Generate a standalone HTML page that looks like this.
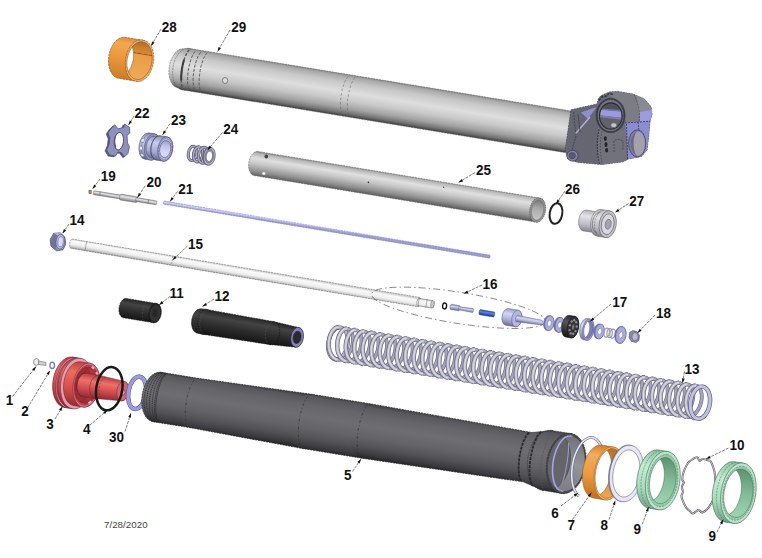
<!DOCTYPE html>
<html><head><meta charset="utf-8"><title>Fork exploded view</title>
<style>
html,body{margin:0;padding:0;background:#fff;}
body{width:762px;height:558px;overflow:hidden;font-family:"Liberation Sans",sans-serif;}
svg{display:block}
.lb{font-family:"Liberation Sans",sans-serif;font-weight:bold;font-size:15px;fill:#111;}
.dt{font-family:"Liberation Sans",sans-serif;font-size:9.8px;fill:#444;}
</style></head><body>
<svg width="762" height="558" viewBox="0 0 762 558">
<defs>
<linearGradient id="g1" gradientUnits="userSpaceOnUse" x1="287.0" y1="64.5" x2="280.2" y2="105.9"><stop offset="0" stop-color="#868686"/><stop offset="0.05" stop-color="#a8a8a8"/><stop offset="0.2" stop-color="#c8c8c8"/><stop offset="0.42" stop-color="#dedede"/><stop offset="0.62" stop-color="#c8c8c8"/><stop offset="0.8" stop-color="#a2a2a2"/><stop offset="0.92" stop-color="#727272"/><stop offset="1" stop-color="#3c3c3c"/></linearGradient>
<linearGradient id="g2" gradientUnits="userSpaceOnUse" x1="134.4" y1="38.8" x2="127.7" y2="79.8"><stop offset="0" stop-color="#dc8c38"/><stop offset="0.15" stop-color="#f2a850"/><stop offset="0.5" stop-color="#ea983e"/><stop offset="1" stop-color="#cc7c2a"/></linearGradient>
<linearGradient id="g3" gradientUnits="userSpaceOnUse" x1="142.6" y1="41.9" x2="136.5" y2="79.4"><stop offset="0" stop-color="#b46c24"/><stop offset="0.15" stop-color="#c87e30"/><stop offset="0.3" stop-color="#d48836"/><stop offset="0.315" stop-color="#8c5018"/><stop offset="0.34" stop-color="#e89c48"/><stop offset="1" stop-color="#f2aa58"/></linearGradient>
<clipPath id="cp4"><path d="M142.6,41.9 A12.2 19.0 9.3 1 1 136.5,79.4 A12.2 19.0 9.3 1 1 142.6,41.9 Z"/></clipPath>
<linearGradient id="g5" gradientUnits="userSpaceOnUse" x1="356.1" y1="167.7" x2="352.2" y2="191.8"><stop offset="0" stop-color="#8a8a8a"/><stop offset="0.08" stop-color="#b8b8b8"/><stop offset="0.28" stop-color="#e0e0e0"/><stop offset="0.5" stop-color="#c6c6c6"/><stop offset="0.8" stop-color="#909090"/><stop offset="1" stop-color="#5c5c5c"/></linearGradient>
<linearGradient id="g6" gradientUnits="userSpaceOnUse" x1="539.3" y1="200.2" x2="536.0" y2="220.0"><stop offset="0" stop-color="#787878"/><stop offset="0.4" stop-color="#a8a8a8"/><stop offset="1" stop-color="#c8c8c8"/></linearGradient>
<linearGradient id="g7" gradientUnits="userSpaceOnUse" x1="591.7" y1="210.4" x2="588.2" y2="232.2"><stop offset="0" stop-color="#b0b0b8"/><stop offset="0.3" stop-color="#e4e4ea"/><stop offset="0.7" stop-color="#b8b8c0"/><stop offset="1" stop-color="#80808a"/></linearGradient>
<linearGradient id="g8" gradientUnits="userSpaceOnUse" x1="607.0" y1="209.9" x2="602.5" y2="237.5"><stop offset="0" stop-color="#b0b0b8"/><stop offset="0.3" stop-color="#e4e4ea"/><stop offset="0.7" stop-color="#b8b8c0"/><stop offset="1" stop-color="#80808a"/></linearGradient>
<linearGradient id="g9" gradientUnits="userSpaceOnUse" x1="153.6" y1="133.7" x2="149.3" y2="159.9"><stop offset="0" stop-color="#8a8eb6"/><stop offset="0.3" stop-color="#c8ccec"/><stop offset="0.7" stop-color="#a4a8d0"/><stop offset="1" stop-color="#666a92"/></linearGradient>
<linearGradient id="g10" gradientUnits="userSpaceOnUse" x1="153.2" y1="135.9" x2="149.7" y2="157.7"><stop offset="0" stop-color="#8a8eb6"/><stop offset="0.3" stop-color="#c8ccec"/><stop offset="0.7" stop-color="#a4a8d0"/><stop offset="1" stop-color="#666a92"/></linearGradient>
<linearGradient id="g11" gradientUnits="userSpaceOnUse" x1="153.4" y1="134.7" x2="149.5" y2="158.9"><stop offset="0" stop-color="#8a8eb6"/><stop offset="0.3" stop-color="#c8ccec"/><stop offset="0.7" stop-color="#a4a8d0"/><stop offset="1" stop-color="#666a92"/></linearGradient>
<linearGradient id="g12" gradientUnits="userSpaceOnUse" x1="166.6" y1="140.8" x2="163.9" y2="157.3"><stop offset="0" stop-color="#a0a4cc"/><stop offset="0.5" stop-color="#ccd0f0"/><stop offset="1" stop-color="#dcdff8"/></linearGradient>
<linearGradient id="g13" gradientUnits="userSpaceOnUse" x1="99.3" y1="191.5" x2="98.6" y2="195.5"><stop offset="0" stop-color="#a0a0a8"/><stop offset="0.35" stop-color="#e4e4ea"/><stop offset="1" stop-color="#787880"/></linearGradient>
<linearGradient id="g14" gradientUnits="userSpaceOnUse" x1="124.1" y1="194.6" x2="123.1" y2="200.5"><stop offset="0" stop-color="#a0a0a8"/><stop offset="0.35" stop-color="#e4e4ea"/><stop offset="1" stop-color="#787880"/></linearGradient>
<linearGradient id="g15" gradientUnits="userSpaceOnUse" x1="143.7" y1="198.8" x2="143.0" y2="202.7"><stop offset="0" stop-color="#a0a0a8"/><stop offset="0.35" stop-color="#e4e4ea"/><stop offset="1" stop-color="#787880"/></linearGradient>
<linearGradient id="g16" gradientUnits="userSpaceOnUse" x1="169.2" y1="201.8" x2="168.7" y2="205.0"><stop offset="0" stop-color="#a8acdc"/><stop offset="0.4" stop-color="#d0d4f4"/><stop offset="1" stop-color="#989cd0"/></linearGradient>
<linearGradient id="g17" gradientUnits="userSpaceOnUse" x1="121.6" y1="247.3" x2="120.0" y2="256.6"><stop offset="0" stop-color="#d0d0d0"/><stop offset="0.2" stop-color="#fafafa"/><stop offset="0.6" stop-color="#efefef"/><stop offset="0.85" stop-color="#c4c4c4"/><stop offset="1" stop-color="#9a9a9a"/></linearGradient>
<linearGradient id="g18" gradientUnits="userSpaceOnUse" x1="453.4" y1="304.7" x2="452.6" y2="309.8"><stop offset="0" stop-color="#8c90b8"/><stop offset="0.35" stop-color="#d0d4f0"/><stop offset="1" stop-color="#6c7098"/></linearGradient>
<linearGradient id="g19" gradientUnits="userSpaceOnUse" x1="461.2" y1="306.6" x2="460.5" y2="310.5"><stop offset="0" stop-color="#8c90b8"/><stop offset="0.35" stop-color="#d0d4f0"/><stop offset="1" stop-color="#6c7098"/></linearGradient>
<linearGradient id="g20" gradientUnits="userSpaceOnUse" x1="482.4" y1="310.0" x2="481.6" y2="315.1"><stop offset="0" stop-color="#2c50b0"/><stop offset="0.35" stop-color="#5c84e0"/><stop offset="1" stop-color="#1c3888"/></linearGradient>
<linearGradient id="g21" gradientUnits="userSpaceOnUse" x1="510.3" y1="309.1" x2="507.6" y2="325.3"><stop offset="0" stop-color="#9ca0c8"/><stop offset="0.3" stop-color="#d4d8f4"/><stop offset="0.7" stop-color="#a4a8d0"/><stop offset="1" stop-color="#6c7098"/></linearGradient>
<linearGradient id="g22" gradientUnits="userSpaceOnUse" x1="521.3" y1="316.2" x2="520.3" y2="322.1"><stop offset="0" stop-color="#9ca0c8"/><stop offset="0.3" stop-color="#d4d8f4"/><stop offset="0.7" stop-color="#a4a8d0"/><stop offset="1" stop-color="#6c7098"/></linearGradient>
<linearGradient id="g23" gradientUnits="userSpaceOnUse" x1="570.9" y1="315.6" x2="567.3" y2="337.3"><stop offset="0" stop-color="#2a2a2a"/><stop offset="0.3" stop-color="#555"/><stop offset="1" stop-color="#181818"/></linearGradient>
<linearGradient id="g24" gradientUnits="userSpaceOnUse" x1="585.7" y1="318.2" x2="582.2" y2="339.6"><stop offset="0" stop-color="#9ca0c8"/><stop offset="0.3" stop-color="#d4d8f4"/><stop offset="0.7" stop-color="#a4a8d0"/><stop offset="1" stop-color="#6c7098"/></linearGradient>
<clipPath id="cp25"><path d="M589.8,320.9 A4.4 8.8 9.4 1 1 586.9,338.3 A4.4 8.8 9.4 1 1 589.8,320.9 Z"/></clipPath>
<linearGradient id="g26" gradientUnits="userSpaceOnUse" x1="136.4" y1="300.1" x2="133.1" y2="319.4"><stop offset="0" stop-color="#262626"/><stop offset="0.25" stop-color="#444444"/><stop offset="0.6" stop-color="#2c2c2c"/><stop offset="1" stop-color="#161616"/></linearGradient>
<linearGradient id="g27" gradientUnits="userSpaceOnUse" x1="205.5" y1="309.3" x2="201.4" y2="334.0"><stop offset="0" stop-color="#262626"/><stop offset="0.25" stop-color="#444444"/><stop offset="0.6" stop-color="#2c2c2c"/><stop offset="1" stop-color="#161616"/></linearGradient>
<linearGradient id="g28" gradientUnits="userSpaceOnUse" x1="286.1" y1="324.6" x2="282.5" y2="345.9"><stop offset="0" stop-color="#262626"/><stop offset="0.25" stop-color="#444444"/><stop offset="0.6" stop-color="#2c2c2c"/><stop offset="1" stop-color="#161616"/></linearGradient>
<linearGradient id="g29" gradientUnits="userSpaceOnUse" x1="240.0" y1="315.5" x2="235.9" y2="339.4"><stop offset="0" stop-color="#262626"/><stop offset="0.25" stop-color="#444444"/><stop offset="0.6" stop-color="#2c2c2c"/><stop offset="1" stop-color="#161616"/></linearGradient>
<linearGradient id="g30" gradientUnits="userSpaceOnUse" x1="72.4" y1="357.0" x2="64.2" y2="407.4"><stop offset="0" stop-color="#b03840"/><stop offset="0.25" stop-color="#e46a64"/><stop offset="0.6" stop-color="#cc4a4e"/><stop offset="1" stop-color="#8c2830"/></linearGradient>
<linearGradient id="g31" gradientUnits="userSpaceOnUse" x1="72.4" y1="357.0" x2="64.2" y2="407.4"><stop offset="0" stop-color="#b03840"/><stop offset="0.25" stop-color="#e46a64"/><stop offset="0.6" stop-color="#cc4a4e"/><stop offset="1" stop-color="#8c2830"/></linearGradient>
<linearGradient id="g32" gradientUnits="userSpaceOnUse" x1="72.1" y1="359.0" x2="64.5" y2="405.4"><stop offset="0" stop-color="#b03840"/><stop offset="0.25" stop-color="#e46a64"/><stop offset="0.6" stop-color="#cc4a4e"/><stop offset="1" stop-color="#8c2830"/></linearGradient>
<linearGradient id="g33" gradientUnits="userSpaceOnUse" x1="72.4" y1="357.0" x2="64.2" y2="407.4"><stop offset="0" stop-color="#b03840"/><stop offset="0.25" stop-color="#e46a64"/><stop offset="0.6" stop-color="#cc4a4e"/><stop offset="1" stop-color="#8c2830"/></linearGradient>
<linearGradient id="g34" gradientUnits="userSpaceOnUse" x1="71.9" y1="360.3" x2="64.7" y2="404.1"><stop offset="0" stop-color="#c04040"/><stop offset="0.25" stop-color="#ec6c5c"/><stop offset="0.6" stop-color="#d8504c"/><stop offset="1" stop-color="#982c34"/></linearGradient>
<linearGradient id="g35" gradientUnits="userSpaceOnUse" x1="89.4" y1="367.1" x2="83.5" y2="403.2"><stop offset="0" stop-color="#a83038"/><stop offset="0.5" stop-color="#c44448"/><stop offset="1" stop-color="#982c34"/></linearGradient>
<clipPath id="cp36"><path d="M89.4,367.1 A11.0 18.3 9.3 1 1 83.5,403.2 A11.0 18.3 9.3 1 1 89.4,367.1 Z"/></clipPath>
<linearGradient id="g37" gradientUnits="userSpaceOnUse" x1="70.2" y1="370.6" x2="66.4" y2="393.8"><stop offset="0" stop-color="#b83c44"/><stop offset="0.3" stop-color="#ee7268"/><stop offset="0.65" stop-color="#d04c50"/><stop offset="1" stop-color="#942c34"/></linearGradient>
<linearGradient id="g38" gradientUnits="userSpaceOnUse" x1="70.0" y1="371.5" x2="66.6" y2="392.9"><stop offset="0" stop-color="#b83c44"/><stop offset="0.3" stop-color="#ee7268"/><stop offset="0.65" stop-color="#d04c50"/><stop offset="1" stop-color="#942c34"/></linearGradient>
<linearGradient id="g39" gradientUnits="userSpaceOnUse" x1="179.4" y1="375.3" x2="171.3" y2="424.7"><stop offset="0" stop-color="#444446"/><stop offset="0.05" stop-color="#58585c"/><stop offset="0.2" stop-color="#66666a"/><stop offset="0.4" stop-color="#6e6e72"/><stop offset="0.62" stop-color="#646468"/><stop offset="0.8" stop-color="#525256"/><stop offset="0.93" stop-color="#3c3c40"/><stop offset="1" stop-color="#2a2a2c"/></linearGradient>
<linearGradient id="g40" gradientUnits="userSpaceOnUse" x1="254.8" y1="386.3" x2="246.4" y2="438.1"><stop offset="0" stop-color="#444446"/><stop offset="0.05" stop-color="#58585c"/><stop offset="0.2" stop-color="#66666a"/><stop offset="0.4" stop-color="#6e6e72"/><stop offset="0.62" stop-color="#646468"/><stop offset="0.8" stop-color="#525256"/><stop offset="0.93" stop-color="#3c3c40"/><stop offset="1" stop-color="#2a2a2c"/></linearGradient>
<linearGradient id="g41" gradientUnits="userSpaceOnUse" x1="341.4" y1="399.1" x2="332.5" y2="453.4"><stop offset="0" stop-color="#444446"/><stop offset="0.05" stop-color="#58585c"/><stop offset="0.2" stop-color="#66666a"/><stop offset="0.4" stop-color="#6e6e72"/><stop offset="0.62" stop-color="#646468"/><stop offset="0.8" stop-color="#525256"/><stop offset="0.93" stop-color="#3c3c40"/><stop offset="1" stop-color="#2a2a2c"/></linearGradient>
<linearGradient id="g42" gradientUnits="userSpaceOnUse" x1="452.0" y1="418.3" x2="443.6" y2="470.2"><stop offset="0" stop-color="#444446"/><stop offset="0.05" stop-color="#58585c"/><stop offset="0.2" stop-color="#66666a"/><stop offset="0.4" stop-color="#6e6e72"/><stop offset="0.62" stop-color="#646468"/><stop offset="0.8" stop-color="#525256"/><stop offset="0.93" stop-color="#3c3c40"/><stop offset="1" stop-color="#2a2a2c"/></linearGradient>
<linearGradient id="g43" gradientUnits="userSpaceOnUse" x1="551.7" y1="430.4" x2="542.0" y2="490.3"><stop offset="0" stop-color="#444446"/><stop offset="0.05" stop-color="#58585c"/><stop offset="0.2" stop-color="#66666a"/><stop offset="0.4" stop-color="#6e6e72"/><stop offset="0.62" stop-color="#646468"/><stop offset="0.8" stop-color="#525256"/><stop offset="0.93" stop-color="#3c3c40"/><stop offset="1" stop-color="#2a2a2c"/></linearGradient>
<linearGradient id="g44" gradientUnits="userSpaceOnUse" x1="570.8" y1="435.6" x2="561.7" y2="491.4"><stop offset="0" stop-color="#707076"/><stop offset="0.5" stop-color="#94949c"/><stop offset="1" stop-color="#7c7c84"/></linearGradient>
<clipPath id="cp45"><path d="M570.8,435.6 A17.8 28.3 9.2 1 1 561.7,491.4 A17.8 28.3 9.2 1 1 570.8,435.6 Z"/></clipPath>
<linearGradient id="g46" gradientUnits="userSpaceOnUse" x1="606.7" y1="445.8" x2="598.1" y2="498.8"><stop offset="0" stop-color="#d08030"/><stop offset="0.2" stop-color="#f2ac5c"/><stop offset="0.6" stop-color="#ea983e"/><stop offset="1" stop-color="#c07020"/></linearGradient>
<linearGradient id="g47" gradientUnits="userSpaceOnUse" x1="613.4" y1="448.7" x2="605.3" y2="498.1"><stop offset="0" stop-color="#b87028"/><stop offset="0.4" stop-color="#d48c3c"/><stop offset="1" stop-color="#eca654"/></linearGradient>
<clipPath id="cp48"><path d="M613.4,448.7 A13.8 25.0 9.2 1 1 605.3,498.1 A13.8 25.0 9.2 1 1 613.4,448.7 Z"/></clipPath>
<linearGradient id="g49" gradientUnits="userSpaceOnUse" x1="657.7" y1="449.9" x2="648.3" y2="508.1"><stop offset="0" stop-color="#8cc0a0"/><stop offset="0.3" stop-color="#c4ecd4"/><stop offset="0.7" stop-color="#a8d8bc"/><stop offset="1" stop-color="#74a488"/></linearGradient>
<linearGradient id="g50" gradientUnits="userSpaceOnUse" x1="666.6" y1="457.6" x2="659.1" y2="503.6"><stop offset="0" stop-color="#5c9470"/><stop offset="0.5" stop-color="#84bc98"/><stop offset="1" stop-color="#a0d4b0"/></linearGradient>
<clipPath id="cp51"><path d="M666.6,457.6 A13.0 23.3 9.2 1 1 659.1,503.6 A13.0 23.3 9.2 1 1 666.6,457.6 Z"/></clipPath>
<linearGradient id="g52" gradientUnits="userSpaceOnUse" x1="734.4" y1="461.7" x2="724.6" y2="521.9"><stop offset="0" stop-color="#8cc0a0"/><stop offset="0.3" stop-color="#c4ecd4"/><stop offset="0.7" stop-color="#a8d8bc"/><stop offset="1" stop-color="#74a488"/></linearGradient>
<linearGradient id="g53" gradientUnits="userSpaceOnUse" x1="742.3" y1="469.3" x2="734.5" y2="517.2"><stop offset="0" stop-color="#5c9470"/><stop offset="0.5" stop-color="#84bc98"/><stop offset="1" stop-color="#a0d4b0"/></linearGradient>
<clipPath id="cp54"><path d="M742.3,469.3 A13.6 24.3 9.2 1 1 734.5,517.2 A13.6 24.3 9.2 1 1 742.3,469.3 Z"/></clipPath>
</defs>
<rect width="762" height="558" fill="#fff"/>
<path d="M184.1,48.9 L189.8,48.5 A12.6 21.0 9.3 0 1 183.0,90.0 L177.8,87.8 A11.8 19.7 9.3 0 1 184.1,48.9 Z" fill="url(#g1)" stroke="#555" stroke-width="0.5" stroke-dasharray="2 0.8"/>
<path d="M188.3,48.3 L571.2,111.1 A12.6 21.0 9.3 0 1 564.4,152.5 L181.5,89.7 A12.6 21.0 9.3 0 1 188.3,48.3 Z" fill="url(#g1)" stroke="#555" stroke-width="0.5" stroke-dasharray="2 0.8"/>
<path d="M196.2,49.6 L214.9,52.6 L208.1,94.1 L189.4,91.0 Z" fill="#000" opacity="0.0"/>
<polyline points="189.3,49.7 188.6,50.5 187.8,51.5 187.1,52.6 186.4,54.0 185.7,55.5 185.0,57.2 184.3,59.0 183.7,61.0 183.2,63.0 182.7,65.1 182.3,67.3 181.9,69.4 181.6,71.6 181.4,73.8 181.2,75.9 181.2,77.9 181.2,79.9 181.3,81.7 181.4,83.4 181.7,85.0 182.0,86.3 182.4,87.5 182.9,88.5 183.4,89.3" fill="none" stroke="#555" stroke-width="1.4" stroke-dasharray="3 1.5"/>
<polyline points="195.1,51.4 194.4,52.3 193.7,53.3 193.1,54.5 192.4,55.9 191.7,57.4 191.1,59.0 190.5,60.7 190.0,62.6 189.5,64.5 189.0,66.4 188.6,68.5 188.3,70.5 188.0,72.5 187.8,74.5 187.7,76.5 187.6,78.4 187.6,80.3 187.6,82.0 187.8,83.7 188.0,85.2 188.2,86.6 188.5,87.8 188.9,88.8 189.3,89.7" fill="none" stroke="#555" stroke-width="1.0" stroke-dasharray="3 1.5"/>
<polyline points="200.6,52.3 200.0,53.2 199.3,54.2 198.6,55.4 197.9,56.8 197.3,58.3 196.6,59.9 196.1,61.6 195.5,63.5 195.0,65.4 194.6,67.3 194.2,69.4 193.8,71.4 193.6,73.4 193.3,75.4 193.2,77.4 193.1,79.3 193.1,81.2 193.2,82.9 193.3,84.6 193.5,86.1 193.7,87.5 194.1,88.7 194.4,89.8 194.9,90.6" fill="none" stroke="#555" stroke-width="1.0" stroke-dasharray="3 1.5"/>
<polyline points="207.3,52.7 206.5,53.4 205.8,54.4 205.1,55.6 204.3,56.9 203.6,58.4 202.9,60.1 202.3,62.0 201.7,63.9 201.1,65.9 200.7,68.0 200.2,70.2 199.9,72.4 199.6,74.6 199.3,76.7 199.2,78.8 199.1,80.9 199.1,82.8 199.2,84.7 199.4,86.4 199.7,87.9 200.0,89.3 200.4,90.5 200.8,91.5 201.3,92.2" fill="none" stroke="#555" stroke-width="0.9" stroke-dasharray="3 1.5"/>
<polyline points="184.1,59.9 183.8,60.7 183.6,61.5 183.3,62.3 183.1,63.2 182.9,64.1 182.7,64.9 182.5,65.8 182.4,66.7 182.2,67.6 182.0,68.5 181.9,69.4 181.8,70.3 181.6,71.2 181.5,72.1 181.5,73.0 181.4,73.9 181.3,74.8 181.3,75.7 181.2,76.5 181.2,77.4 181.2,78.2 181.2,79.0 181.2,79.8 181.2,80.6" fill="none" stroke="#3c3c3c" stroke-width="2.0" />
<ellipse cx="225.1" cy="80.5" rx="2.6" ry="3" fill="#dcdcdc" stroke="#666" stroke-width="0.8"/>
<polyline points="348.0,76.5 347.3,77.3 346.6,78.4 345.9,79.6 345.2,80.9 344.6,82.4 344.0,84.0 343.4,85.8 342.8,87.6 342.3,89.5 341.9,91.5 341.5,93.5 341.2,95.6 340.9,97.6 340.7,99.6 340.5,101.6 340.5,103.5 340.4,105.4 340.5,107.1 340.6,108.7 340.8,110.3 341.1,111.6 341.4,112.9 341.8,113.9 342.2,114.8" fill="none" stroke="#666" stroke-width="0.6" stroke-dasharray="2.5 2"/>
<polyline points="354.9,77.6 354.2,78.5 353.5,79.5 352.8,80.7 352.1,82.1 351.5,83.6 350.9,85.2 350.3,86.9 349.8,88.8 349.3,90.7 348.8,92.6 348.4,94.7 348.1,96.7 347.8,98.7 347.6,100.7 347.4,102.7 347.4,104.6 347.4,106.5 347.4,108.2 347.5,109.9 347.7,111.4 348.0,112.8 348.3,114.0 348.7,115.0 349.1,115.9" fill="none" stroke="#666" stroke-width="0.6" stroke-dasharray="2.5 2"/>
<g id="lug">
<path d="M571,109.8 L597,104 L598.5,98.5 L600.8,95.8 L609.6,91.9 L617.5,91.4 L632.3,93.9 L644.1,98.8 L651,106.7 L652,114.6 L650,121.5 L648.5,138 L647,150 L641.4,156.5 L628.2,159 L623,161.8 L602,164.4 L598,164.2 L577,162.2 L567.9,159 L565.2,150 Z" fill="#6c6c7a" stroke="#3a3a40" stroke-width="0.7" stroke-dasharray="2 0.8"/>
<!-- gusset -->
<path d="M572,111 L597,105 L598,128 L598,163 L577,161.5 L568.5,158.5 L566,150 Z" fill="#666672"/>
<path d="M581,112.5 L596.5,107 L588,119 Z" fill="#8e8ed0"/>
<path d="M575.3,134 L590,117" stroke="#b0b0d8" stroke-width="1.4" fill="none"/>
<path d="M573.5,112 L576,136 L572,150" stroke="#3c3c44" stroke-width="0.8" fill="none" stroke-dasharray="2 1"/>
<path d="M578,114 L580,132" stroke="#3c3c44" stroke-width="0.7" fill="none"/>
<!-- upper housing -->
<path d="M606,93.5 L617.5,91.6 L632.3,94.1 L644.1,99 L650.8,106.9 L651.8,114.6 L650,121.5 L626,124 L622,104 Z" fill="#7c7c84"/>
<path d="M636,95.5 L644.1,99 L650.8,106.9 L651.8,114.6 L650,121.5 L640,122.5 Z" fill="#8a8a94"/>
<path d="M640,112 L651.8,110 L651.8,115 L650,121.5 L640,122.5 Z" fill="#9c9cde"/>
<path d="M634,94.5 Q641,108 639,123" stroke="#3c3c44" stroke-width="0.7" fill="none" stroke-dasharray="2 1.2"/>
<!-- middle lower -->
<path d="M598,128 L626,130 L627,160 L623,161.8 L602,164.4 L598,164 Z" fill="#72727c"/>
<!-- right clamp -->
<path d="M625,122.5 L650,121 L648.5,138 L647,150 L641.4,156.5 L628.2,159 L627,140 Z" fill="#8c8cd2"/>
<path d="M625,123 L650,121.2" stroke="#33333c" stroke-width="0.8" fill="none" stroke-dasharray="2 1"/>
<path d="M626.5,124 L627.5,159" stroke="#33333c" stroke-width="0.8" fill="none" stroke-dasharray="2 1"/>
<path d="M638,122 L639,131" stroke="#33333c" stroke-width="0.7" fill="none" stroke-dasharray="2 1"/>
<!-- main bore -->
<ellipse cx="610.6" cy="115.5" rx="14.8" ry="17.6" fill="#3c3c44"/>
<ellipse cx="610.6" cy="115.5" rx="13.2" ry="16" fill="#74747e" stroke="#2c2c34" stroke-width="0.6" stroke-dasharray="2 1"/>
<clipPath id="bore"><ellipse cx="610.8" cy="116" rx="11.3" ry="13.2"/></clipPath>
<g clip-path="url(#bore)">
<rect x="598" y="100" width="26" height="32" fill="#62626c"/>
<path d="M598,100 L624,100 L624,111.5 L598,109.3 Z" fill="#50505e"/>
<path d="M598,109.3 L624,111.5 L624,118.2 L598,115.2 Z" fill="#9c9cdc"/>
<path d="M598,108.2 L624,110.4 L624,111.8 L598,109.6 Z" fill="#7474ac"/>
<path d="M598,115.2 L624,118.2 L624,120 L598,117 Z" fill="#7c7cae"/>
<path d="M619.5,100 L624,100 L624,132 L618.5,132 Q623,116 619.5,100Z" fill="#84848e"/>
</g>
<ellipse cx="610.8" cy="116" rx="11.3" ry="13.2" fill="none" stroke="#2c2c34" stroke-width="1.2"/>
<ellipse cx="613.8" cy="125.2" rx="3.0" ry="2.4" fill="#c4c4cc" stroke="#444" stroke-width="0.5"/>
<path d="M599,100.5 L602,97 L606,96 L609,93.5 L613,94.5" stroke="#33333c" stroke-width="1.6" fill="none" stroke-dasharray="2.5 1"/>
<!-- axle bore -->
<ellipse cx="637.2" cy="143.4" rx="8.6" ry="13.6" fill="#7878b8" stroke="#33333c" stroke-width="0.6"/>
<ellipse cx="637.8" cy="143.6" rx="7.2" ry="12.2" fill="#a2a2aa"/>
<path d="M637.8,131.4 A7.2 12.2 0 0 0 637.8,155.8 A4.2 12.2 0 0 1 637.8,131.4Z" fill="#6c6c76"/>
<!-- seam and slots -->
<path d="M599,129 Q595.5,147 599.5,164" stroke="#2c2c34" stroke-width="0.9" stroke-dasharray="2 1" fill="none"/>
<path d="M602,131 Q598.5,148 602.5,164" stroke="#2c2c34" stroke-width="0.6" stroke-dasharray="1.5 1.5" fill="none"/>
<ellipse cx="605.3" cy="138.6" rx="1.5" ry="2.3" fill="#24242c"/>
<ellipse cx="606" cy="144.6" rx="1.5" ry="2.5" fill="#24242c"/>
<ellipse cx="606.6" cy="150.2" rx="1.5" ry="2.2" fill="#24242c"/>
<path d="M614,152 L614,141 Q618,138 623,141 L623,150" stroke="#33333c" stroke-width="0.6" stroke-dasharray="2 1" fill="none"/>
<!-- boss -->
<ellipse cx="572.5" cy="155.7" rx="5.6" ry="5.4" fill="#8484b4" stroke="#33333c" stroke-width="0.7"/>
<ellipse cx="572.2" cy="155.7" rx="3.2" ry="3.1" fill="#5c5c6c" stroke="#33333c" stroke-width="0.5"/>
</g>
<path d="M124.5,37.2 L142.9,40.2 A13.3 20.8 9.3 0 1 136.2,81.2 L117.9,78.2 A13.3 20.8 9.3 0 1 124.5,37.2 Z" fill="url(#g2)" stroke="#7a4a18" stroke-width="0.6" stroke-dasharray="2.5 0.8"/>
<path d="M142.9,40.2 A13.3 20.8 9.3 1 1 136.2,81.2 A13.3 20.8 9.3 1 1 142.9,40.2 Z" fill="#f0b068" stroke="#7a4a18" stroke-width="0.6" stroke-dasharray="2.5 0.8"/>
<path d="M142.6,41.9 A12.2 19.0 9.3 1 1 136.5,79.4 A12.2 19.0 9.3 1 1 142.6,41.9 Z" fill="url(#g3)" stroke="none" stroke-width="1" />
<g clip-path="url(#cp4)"><path d="M124.3,38.9 A12.2 19.0 9.3 1 1 118.1,76.5 A12.2 19.0 9.3 1 1 124.3,38.9 Z" fill="#fff" stroke="#7a4a18" stroke-width="0.5"/></g>
<path d="M142.6,41.9 A12.2 19.0 9.3 1 1 136.5,79.4 A12.2 19.0 9.3 1 1 142.6,41.9 Z" fill="none" stroke="#7a4a18" stroke-width="0.5" />
<path d="M257.5,151.4 L539.7,198.1 A7.3 12.2 9.4 0 1 535.7,222.1 L253.5,175.4 A7.3 12.2 9.4 0 1 257.5,151.4 Z" fill="url(#g5)" stroke="#505050" stroke-width="0.5" stroke-dasharray="2 0.8"/>
<path d="M539.7,198.1 A7.3 12.2 9.4 1 1 535.7,222.1 A7.3 12.2 9.4 1 1 539.7,198.1 Z" fill="#909090" stroke="#444" stroke-width="0.6" stroke-dasharray="1.5 0.8"/>
<path d="M539.3,200.2 A6.0 10.0 9.4 1 1 536.0,220.0 A6.0 10.0 9.4 1 1 539.3,200.2 Z" fill="url(#g6)" stroke="#666" stroke-width="0.4" />
<ellipse cx="266.3" cy="156.5" rx="1.8" ry="2" fill="#444"/>
<ellipse cx="263.8" cy="173.6" rx="1.6" ry="1.3" fill="#fff"/>
<circle cx="368.4" cy="182.4" r="0.8" fill="#333"/>
<circle cx="443.7" cy="187.2" r="0.7" fill="#444"/>
<ellipse cx="556" cy="213.5" rx="6.3" ry="10.4" transform="rotate(9.4 556 213.5)" fill="none" stroke="#222" stroke-width="2.0"/>
<path d="M586.7,210.1 L600.5,212.4 A6.3 10.5 9.3 0 1 597.1,233.1 L583.3,230.9 A6.3 10.5 9.3 0 1 586.7,210.1 Z" fill="url(#g7)" stroke="#666" stroke-width="0.5" />
<path d="M601.0,209.4 L609.9,210.9 A8.1 13.5 9.3 0 1 605.5,237.5 L596.6,236.1 A8.1 13.5 9.3 0 1 601.0,209.4 Z" fill="url(#g8)" stroke="#666" stroke-width="0.5" />
<path d="M609.9,210.9 A8.1 13.5 9.3 1 1 605.5,237.5 A8.1 13.5 9.3 1 1 609.9,210.9 Z" fill="#c4c4cc" stroke="#555" stroke-width="0.6" />
<path d="M609.4,213.8 A6.3 10.5 9.3 1 1 606.0,234.6 A6.3 10.5 9.3 1 1 609.4,213.8 Z" fill="#d8d8e0" stroke="#666" stroke-width="0.8" />
<path d="M609.0,219.3 A3.0 5.0 9.3 1 1 607.4,229.2 A3.0 5.0 9.3 1 1 609.0,219.3 Z" fill="#a4a4b0" stroke="#555" stroke-width="0.5" />
<polyline points="600.5,212.4 599.7,212.3 598.8,212.5 598.0,212.8 597.2,213.3 596.4,213.9 595.6,214.7 594.9,215.6 594.3,216.7 593.7,217.9 593.2,219.1 592.9,220.4 592.6,221.7 592.4,223.1 592.4,224.5 592.4,225.8 592.6,227.1 592.9,228.3 593.2,229.4 593.7,230.4 594.2,231.2 594.9,231.9 595.6,232.5 596.3,232.9 597.1,233.1" fill="none" stroke="#555" stroke-width="0.6" />
<polyline points="603.5,210.0 602.6,210.3 601.6,210.6 600.6,211.2 599.7,211.9 598.9,212.8 598.0,213.8 597.3,215.0 596.6,216.3 596.0,217.6 595.5,219.1 595.1,220.6 594.8,222.1 594.6,223.6 594.5,225.2 594.5,226.7 594.6,228.2 594.9,229.6 595.2,231.0 595.7,232.2 596.2,233.3 596.9,234.3 597.6,235.1 598.4,235.8 599.2,236.3" fill="none" stroke="#555" stroke-width="0.5" stroke-dasharray="2 1"/>
<path d="M109.1,129.8 L113.2,125.7 L116.4,129.8 L122.2,128.2 L123.0,124.9 L127.9,128.2 L128.2,133.9 L125.4,136.4 L125.9,143.8 L127.9,147.9 L126.3,154.4 L123.0,157.7 L119.7,153.6 L116.4,152.8 L114.0,156.9 L108.2,156.1 L105.0,151.1 L107.4,145.4 L108.2,138.9 L106.3,133.9 Z" fill="#585c84" stroke="#44486c" stroke-width="0.6"/>
<path d="M110.7,128.9 L114.8,124.8 L118.0,128.9 L123.8,127.3 L124.6,124.0 L129.5,127.3 L129.8,133.0 L127.0,135.5 L127.5,142.9 L129.5,147.0 L127.9,153.5 L124.6,156.8 L121.3,152.7 L118.0,151.9 L115.6,156.0 L109.8,155.2 L106.6,150.2 L109.0,144.5 L109.8,138.0 L107.9,133.0 Z" fill="#8e92ba" stroke="#44486c" stroke-width="0.7"/>
<ellipse cx="118.9" cy="141.2" rx="4.6" ry="8.8" fill="#fff" stroke="#44486c" stroke-width="0.9" transform="rotate(6 118.9 141.2)"/>
<path d="M115.4,136 Q113.6,141.5 115.8,147.5" stroke="#585c84" stroke-width="1.4" fill="none"/>
<path d="M148.6,132.9 L154.6,133.8 A8.0 13.3 9.3 0 1 150.3,160.1 L144.4,159.1 A8.0 13.3 9.3 0 1 148.6,132.9 Z" fill="url(#g9)" stroke="#44486c" stroke-width="0.6" />
<path d="M154.6,133.8 A8.0 13.3 9.3 1 1 150.3,160.1 A8.0 13.3 9.3 1 1 154.6,133.8 Z" fill="#9498c0" stroke="#44486c" stroke-width="0.5" />
<path d="M154.2,136.1 L160.1,137.1 A6.6 11.0 9.3 0 1 156.6,158.8 L150.7,157.8 A6.6 11.0 9.3 0 1 154.2,136.1 Z" fill="url(#g10)" stroke="#44486c" stroke-width="0.5" />
<path d="M160.3,135.8 L167.2,136.9 A7.4 12.3 9.3 0 1 163.3,161.2 L156.4,160.1 A7.4 12.3 9.3 0 1 160.3,135.8 Z" fill="url(#g11)" stroke="#44486c" stroke-width="0.6" />
<path d="M167.2,136.9 A7.4 12.3 9.3 1 1 163.3,161.2 A7.4 12.3 9.3 1 1 167.2,136.9 Z" fill="#a4a8d4" stroke="#44486c" stroke-width="0.6" />
<path d="M166.9,138.9 A6.2 10.3 9.3 1 1 163.6,159.2 A6.2 10.3 9.3 1 1 166.9,138.9 Z" fill="#b8bce4" stroke="#44486c" stroke-width="0.4" stroke-dasharray="2 1"/>
<path d="M166.6,140.8 A5.0 8.4 9.3 1 1 163.9,157.3 A5.0 8.4 9.3 1 1 166.6,140.8 Z" fill="url(#g12)" stroke="#44486c" stroke-width="0.6" />
<polyline points="160.3,135.8 159.4,135.7 158.4,135.9 157.4,136.3 156.4,136.8 155.5,137.6 154.6,138.5 153.8,139.6 153.0,140.8 152.4,142.2 151.8,143.6 151.4,145.2 151.1,146.7 150.9,148.3 150.8,149.9 150.9,151.5 151.0,153.0 151.4,154.4 151.8,155.7 152.3,156.8 153.0,157.9 153.7,158.7 154.5,159.3 155.4,159.8 156.4,160.1" fill="none" stroke="#44486c" stroke-width="0.6" />
<polyline points="150.2,133.3 149.3,133.5 148.3,133.9 147.4,134.5 146.5,135.2 145.6,136.1 144.8,137.1 144.1,138.2 143.4,139.4 142.8,140.8 142.3,142.2 141.9,143.7 141.6,145.2 141.4,146.7 141.3,148.3 141.3,149.8 141.5,151.2 141.7,152.6 142.1,153.9 142.5,155.1 143.0,156.2 143.7,157.2 144.4,158.0 145.2,158.7 146.0,159.2" fill="none" stroke="#44486c" stroke-width="0.5" stroke-dasharray="2 1"/>
<polygon points="141.9,138.5 141.5,139.3 141.2,140.1 140.9,140.9 140.6,141.8 143.5,142.3 143.8,141.4 144.1,140.6 144.5,139.8 144.9,139.0" fill="#eef0fc" stroke="#44486c" stroke-width="0.4"/>
<polygon points="139.7,146.1 139.6,147.0 139.5,147.9 139.5,148.8 139.6,149.7 142.5,150.2 142.5,149.3 142.5,148.4 142.5,147.5 142.6,146.5" fill="#eef0fc" stroke="#44486c" stroke-width="0.4"/>
<polygon points="140.3,153.6 140.5,154.4 140.8,155.1 141.1,155.7 141.5,156.4 144.5,156.8 144.1,156.2 143.8,155.6 143.5,154.9 143.2,154.1" fill="#eef0fc" stroke="#44486c" stroke-width="0.4"/>
<path d="M193.8,146.4 A4.3 7.2 9.3 1 1 191.4,160.6 A4.3 7.2 9.3 1 1 193.8,146.4 Z" fill="none" stroke="#4c4c64" stroke-width="3.0" />
<path d="M193.8,146.4 A4.3 7.2 9.3 1 1 191.4,160.6 A4.3 7.2 9.3 1 1 193.8,146.4 Z" fill="none" stroke="#a8a8c0" stroke-width="1.8" />
<path d="M199.3,146.9 A4.6 7.6 9.3 1 1 196.8,161.9 A4.6 7.6 9.3 1 1 199.3,146.9 Z" fill="none" stroke="#4c4c64" stroke-width="3.0" />
<path d="M199.3,146.9 A4.6 7.6 9.3 1 1 196.8,161.9 A4.6 7.6 9.3 1 1 199.3,146.9 Z" fill="none" stroke="#a8a8c0" stroke-width="1.8" />
<path d="M204.7,147.4 A4.8 8.0 9.3 1 1 202.2,163.2 A4.8 8.0 9.3 1 1 204.7,147.4 Z" fill="none" stroke="#4c4c64" stroke-width="3.0" />
<path d="M204.7,147.4 A4.8 8.0 9.3 1 1 202.2,163.2 A4.8 8.0 9.3 1 1 204.7,147.4 Z" fill="none" stroke="#a8a8c0" stroke-width="1.8" />
<path d="M209.3,147.1 L210.8,147.4 A5.4 9.0 9.3 0 1 207.9,165.1 L206.5,164.9 A5.4 9.0 9.3 0 1 209.3,147.1 Z" fill="#7c7c98" stroke="#4c4c64" stroke-width="0.5" />
<path d="M210.8,147.4 A5.4 9.0 9.3 1 1 207.9,165.1 A5.4 9.0 9.3 1 1 210.8,147.4 Z" fill="#b0b0c8" stroke="#4c4c64" stroke-width="0.6" />
<path d="M210.4,149.7 A4.0 6.6 9.3 1 1 208.3,162.7 A4.0 6.6 9.3 1 1 210.4,149.7 Z" fill="#9898b4" stroke="#4c4c64" stroke-width="0.5" />
<path d="M210.2,151.1 A3.1 5.2 9.3 1 1 208.5,161.4 A3.1 5.2 9.3 1 1 210.2,151.1 Z" fill="#fff" stroke="#4c4c64" stroke-width="0.6" />
<rect x="89" y="190.6" width="2.2" height="2.8" fill="#e89038" stroke="#5a3a18" stroke-width="0.6"/>
<path d="M94.3,190.7 L121.0,195.1 A0.8 2.0 9.3 0 1 120.3,199.0 L93.7,194.7 A0.8 2.0 9.3 0 1 94.3,190.7 Z" fill="url(#g13)" stroke="#555" stroke-width="0.4" />
<path d="M121.1,194.1 L136.9,196.7 A1.2 3.0 9.3 0 1 136.0,202.6 L120.2,200.0 A1.2 3.0 9.3 0 1 121.1,194.1 Z" fill="url(#g14)" stroke="#555" stroke-width="0.4" />
<path d="M136.8,197.6 L156.5,200.9 A0.8 2.0 9.3 0 1 155.9,204.8 L136.1,201.6 A0.8 2.0 9.3 0 1 136.8,197.6 Z" fill="url(#g15)" stroke="#555" stroke-width="0.4" />
<path d="M148.6,199.6 L148.0,203.5" stroke="#555" stroke-width="0.5" />
<path d="M100.2,191.7 L99.6,195.6" stroke="#555" stroke-width="0.5" />
<path d="M164.3,201.0 L489.8,255.1 A0.6 1.6 9.4 0 1 489.3,258.2 L163.7,204.2 A0.6 1.6 9.4 0 1 164.3,201.0 Z" fill="url(#g16)" stroke="#6468a0" stroke-width="0.4" stroke-dasharray="2 0.8"/>
<g id="p14">
<path d="M50.1,239.7 L53.8,233.3 L60.2,232.8 L64.8,237 L65.7,244.3 L63,249.8 L56.5,250.8 L51,246.2 Z" fill="#9498bc" stroke="#44465c" stroke-width="0.7"/>
<path d="M50.1,239.7 L53.8,233.3 L57,235 L56.2,248.6 L56.5,250.8 L51,246.2 Z" fill="#70749a"/>
<path d="M53.8,233.3 L60.2,232.8 L61.5,234.5 L57,235 Z" fill="#b0b4d4"/>
<ellipse cx="60.3" cy="241.7" rx="4.3" ry="7.4" fill="#b4b8dc" stroke="#44465c" stroke-width="0.5" transform="rotate(6 60.3 241.7)"/>
<ellipse cx="60.6" cy="241.8" rx="2.7" ry="5" fill="#d8dbf2" stroke="#5c6088" stroke-width="0.5" transform="rotate(6 60.6 241.8)"/>
</g>
<path d="M72.3,239.1 L419.4,297.4 A2.1 4.7 9.5 0 1 417.9,306.7 L70.7,248.3 A2.1 4.7 9.5 0 1 72.3,239.1 Z" fill="url(#g17)" stroke="#555" stroke-width="0.5" stroke-dasharray="2 0.8"/>
<path d="M419.2,298.4 L433.1,300.7 A1.7 3.7 9.5 0 1 431.8,308.0 L418.0,305.7 A1.7 3.7 9.5 0 1 419.2,298.4 Z" fill="url(#g17)" stroke="#555" stroke-width="0.5" />
<path d="M433.1,300.7 A1.7 3.7 9.5 1 1 431.8,308.0 A1.7 3.7 9.5 1 1 433.1,300.7 Z" fill="#c8c8c8" stroke="#555" stroke-width="0.4" />
<path d="M86.6,241.5 L85.0,250.7" stroke="#666" stroke-width="0.5" />
<path d="M419.4,297.4 L417.9,306.7" stroke="#666" stroke-width="0.5" />
<path d="M427.3,298.7 L425.7,308.0" stroke="#666" stroke-width="0.5" />
<path d="M172.9,256.0 L171.3,265.2" stroke="#666" stroke-width="0.5" stroke-dasharray="2 1"/>
<ellipse cx="458.5" cy="307.8" rx="88" ry="15.6" transform="rotate(9 458.5 307.8)" fill="none" stroke="#444" stroke-width="0.6" stroke-dasharray="7 3 1.5 3"/>
<ellipse cx="444.6" cy="306" rx="2" ry="3" fill="#fff" stroke="#111" stroke-width="1.3" transform="rotate(9 444.6 306)"/>
<path d="M451.4,304.3 L459.3,305.6 A1.0 2.6 9.4 0 1 458.5,310.8 L450.6,309.5 A1.0 2.6 9.4 0 1 451.4,304.3 Z" fill="url(#g18)" stroke="#50547c" stroke-width="0.4" />
<path d="M459.2,306.6 L473.0,308.5 A0.8 2.0 9.4 0 1 472.4,312.5 L458.6,309.8 A0.6 1.6 9.4 0 1 459.2,306.6 Z" fill="url(#g19)" stroke="#50547c" stroke-width="0.4" />
<path d="M480.4,309.6 L494.2,311.9 A1.0 2.6 9.4 0 1 493.4,317.0 L479.6,314.8 A1.0 2.6 9.4 0 1 480.4,309.6 Z" fill="url(#g20)" stroke="#1c2c6c" stroke-width="0.4" />
<path d="M508.4,308.6 L518.2,310.2 A5.0 8.4 9.4 0 1 515.5,326.8 L505.6,325.2 A5.0 8.4 9.4 0 1 508.4,308.6 Z" fill="url(#g21)" stroke="#50547c" stroke-width="0.5" />
<path d="M518.2,310.2 A5.0 8.4 9.4 1 1 515.5,326.8 A5.0 8.4 9.4 1 1 518.2,310.2 Z" fill="#b4b8e0" stroke="#50547c" stroke-width="0.5" />
<path d="M517.4,315.4 L541.9,320.2 A1.0 2.4 9.4 0 1 541.1,325.0 L516.3,321.7 A1.3 3.2 9.4 0 1 517.4,315.4 Z" fill="url(#g22)" stroke="#50547c" stroke-width="0.4" />
<path d="M549.1,315.6 L550.6,315.8 A4.5 7.5 9.4 0 1 548.2,330.6 L546.7,330.4 A4.5 7.5 9.4 0 1 549.1,315.6 Z" fill="#7c80b0" stroke="#50547c" stroke-width="0.4" />
<path d="M550.6,315.8 A4.5 7.5 9.4 1 1 548.2,330.6 A4.5 7.5 9.4 1 1 550.6,315.8 Z" fill="#a8acdc" stroke="#50547c" stroke-width="0.5" />
<path d="M549.9,320.2 A1.8 3.0 9.4 1 1 548.9,326.2 A1.8 3.0 9.4 1 1 549.9,320.2 Z" fill="#fff" stroke="#50547c" stroke-width="0.4" />
<path d="M559.5,317.3 L561.0,317.5 A4.5 7.5 9.4 0 1 558.5,332.3 L557.1,332.1 A4.5 7.5 9.4 0 1 559.5,317.3 Z" fill="#7c80b0" stroke="#50547c" stroke-width="0.4" />
<path d="M561.0,317.5 A4.5 7.5 9.4 1 1 558.5,332.3 A4.5 7.5 9.4 1 1 561.0,317.5 Z" fill="#a8acdc" stroke="#50547c" stroke-width="0.5" />
<path d="M560.2,321.9 A1.8 3.0 9.4 1 1 559.3,327.9 A1.8 3.0 9.4 1 1 560.2,321.9 Z" fill="#fff" stroke="#50547c" stroke-width="0.4" />
<path d="M569.0,315.3 L574.9,316.3 A5.5 11.0 9.4 0 1 571.3,338.0 L565.4,337.0 A5.5 11.0 9.4 0 1 569.0,315.3 Z" fill="url(#g23)" stroke="#111" stroke-width="0.5" />
<path d="M574.9,316.3 A5.5 11.0 9.4 1 1 571.3,338.0 A5.5 11.0 9.4 1 1 574.9,316.3 Z" fill="#333" stroke="#111" stroke-width="0.5" />
<circle cx="574.2" cy="320.2" r="1.2" fill="#8a8a8a"/>
<circle cx="571.7" cy="321.5" r="1.2" fill="#8a8a8a"/>
<circle cx="569.9" cy="325.3" r="1.2" fill="#8a8a8a"/>
<circle cx="569.5" cy="330.1" r="1.2" fill="#8a8a8a"/>
<circle cx="570.8" cy="333.4" r="1.2" fill="#8a8a8a"/>
<circle cx="573.2" cy="333.8" r="1.2" fill="#8a8a8a"/>
<circle cx="575.5" cy="331.1" r="1.2" fill="#8a8a8a"/>
<circle cx="576.7" cy="326.5" r="1.2" fill="#8a8a8a"/>
<circle cx="576.2" cy="322.2" r="1.2" fill="#8a8a8a"/>
<path d="M573.6,324.1 A1.5 3.0 9.4 1 1 572.6,330.1 A1.5 3.0 9.4 1 1 573.6,324.1 Z" fill="#777" stroke="#111" stroke-width="0.4" />
<path d="M586.7,318.4 L590.1,319.0 A5.4 10.8 9.4 0 1 586.6,340.3 L583.2,339.7 A5.4 10.8 9.4 0 1 586.7,318.4 Z" fill="url(#g24)" stroke="#50547c" stroke-width="0.5" />
<path d="M590.1,319.0 A5.4 10.8 9.4 1 1 586.6,340.3 A5.4 10.8 9.4 1 1 590.1,319.0 Z" fill="#a0a4d4" stroke="#50547c" stroke-width="0.5" />
<path d="M589.8,320.9 A4.4 8.8 9.4 1 1 586.9,338.3 A4.4 8.8 9.4 1 1 589.8,320.9 Z" fill="#7c80b4" stroke="none" stroke-width="1" />
<g clip-path="url(#cp25)"><path d="M586.4,320.4 A4.4 8.8 9.4 1 1 583.5,337.7 A4.4 8.8 9.4 1 1 586.4,320.4 Z" fill="#fff" stroke="#50547c" stroke-width="0.5"/></g>
<path d="M589.8,320.9 A4.4 8.8 9.4 1 1 586.9,338.3 A4.4 8.8 9.4 1 1 589.8,320.9 Z" fill="none" stroke="#50547c" stroke-width="0.5" />
<path d="M599.5,323.9 L600.9,324.1 A4.5 7.5 9.4 0 1 598.5,338.9 L597.0,338.7 A4.5 7.5 9.4 0 1 599.5,323.9 Z" fill="#7c80b0" stroke="#50547c" stroke-width="0.4" />
<path d="M600.9,324.1 A4.5 7.5 9.4 1 1 598.5,338.9 A4.5 7.5 9.4 1 1 600.9,324.1 Z" fill="#a8acdc" stroke="#50547c" stroke-width="0.5" />
<path d="M600.2,328.5 A1.8 3.0 9.4 1 1 599.2,334.5 A1.8 3.0 9.4 1 1 600.2,328.5 Z" fill="#fff" stroke="#50547c" stroke-width="0.4" />
<path d="M607.4,328.2 A2.7 4.5 9.4 1 1 605.9,337.1 A2.7 4.5 9.4 1 1 607.4,328.2 Z" fill="none" stroke="#9c9cb0" stroke-width="1.2" />
<path d="M610.3,328.7 A2.7 4.5 9.4 1 1 608.9,337.6 A2.7 4.5 9.4 1 1 610.3,328.7 Z" fill="none" stroke="#9c9cb0" stroke-width="1.2" />
<path d="M613.3,329.2 A2.7 4.5 9.4 1 1 611.8,338.1 A2.7 4.5 9.4 1 1 613.3,329.2 Z" fill="none" stroke="#9c9cb0" stroke-width="1.2" />
<path d="M620.8,326.4 L622.3,326.6 A5.1 8.5 9.4 0 1 619.5,343.4 L618.1,343.1 A5.1 8.5 9.4 0 1 620.8,326.4 Z" fill="#7c80b0" stroke="#50547c" stroke-width="0.4" />
<path d="M622.3,326.6 A5.1 8.5 9.4 1 1 619.5,343.4 A5.1 8.5 9.4 1 1 622.3,326.6 Z" fill="#a8acdc" stroke="#50547c" stroke-width="0.5" />
<path d="M621.4,332.0 A1.8 3.0 9.4 1 1 620.4,338.0 A1.8 3.0 9.4 1 1 621.4,332.0 Z" fill="#fff" stroke="#50547c" stroke-width="0.4" />
<path d="M629.5,332.5 L632.5,330.5 L637,331.5 L639.5,335.5 L639,340.5 L636,342.5 L631.5,341.5 L629,338 Z" fill="#8888a8" stroke="#44465c" stroke-width="0.5"/>
<ellipse cx="635" cy="336.7" rx="3" ry="4" fill="#b8b8d4" stroke="#44465c" stroke-width="0.4"/>
<path d="M126.5,298.4 L156.7,303.6 A5.8 9.7 9.5 0 1 153.5,322.7 L123.3,317.8 A5.9 9.8 9.5 0 1 126.5,298.4 Z" fill="url(#g26)" stroke="#111" stroke-width="0.5" stroke-dasharray="2 0.8"/>
<path d="M156.7,303.6 A5.8 9.7 9.5 1 1 153.5,322.7 A5.8 9.7 9.5 1 1 156.7,303.6 Z" fill="#262626" stroke="#111" stroke-width="0.5" />
<path d="M156.3,305.9 A4.4 7.4 9.5 1 1 153.9,320.5 A4.4 7.4 9.5 1 1 156.3,305.9 Z" fill="#303030" stroke="#555" stroke-width="0.5" stroke-dasharray="1.5 1"/>
<path d="M155.8,308.6 A2.8 4.6 9.5 1 1 154.3,317.7 A2.8 4.6 9.5 1 1 155.8,308.6 Z" fill="#262626" stroke="#444" stroke-width="0.5" stroke-dasharray="1.5 1"/>
<polyline points="146.1,302.4 145.8,302.8 145.5,303.2 145.1,303.7 144.8,304.3 144.5,305.0 144.2,305.7 143.9,306.5 143.6,307.3 143.4,308.2 143.1,309.2 142.9,310.1 142.7,311.1 142.6,312.1 142.5,313.0 142.4,314.0 142.3,314.9 142.3,315.8 142.3,316.7 142.4,317.5 142.5,318.2 142.6,318.9 142.7,319.5 142.9,320.0 143.1,320.4" fill="none" stroke="#5a5a5a" stroke-width="0.5" stroke-dasharray="2 1.5"/>
<path d="M200.5,308.7 L207.5,309.5 A7.6 12.6 9.5 0 1 203.3,334.4 L196.5,332.9 A7.4 12.3 9.5 0 1 200.5,308.7 Z" fill="url(#g27)" stroke="#111" stroke-width="0.5" />
<path d="M273.4,321.6 L298.8,327.5 A6.0 10.0 9.5 0 1 295.5,347.2 L269.6,344.5 A7.0 11.6 9.5 0 1 273.4,321.6 Z" fill="url(#g28)" stroke="#111" stroke-width="0.5" stroke-dasharray="2 0.8"/>
<path d="M206.5,309.4 L274.4,321.8 A7.0 11.6 9.5 0 1 270.5,344.7 L202.3,334.2 A7.6 12.6 9.5 0 1 206.5,309.4 Z" fill="url(#g29)" stroke="#111" stroke-width="0.5" stroke-dasharray="2 0.8"/>
<path d="M298.8,327.5 A6.0 10.0 9.5 1 1 295.5,347.2 A6.0 10.0 9.5 1 1 298.8,327.5 Z" fill="#8080c4" stroke="#222" stroke-width="0.6" />
<path d="M298.1,331.3 A3.7 6.2 9.5 1 1 296.1,343.5 A3.7 6.2 9.5 1 1 298.1,331.3 Z" fill="#2a2a2a" stroke="#222" stroke-width="0.5" />
<polyline points="201.5,309.1 200.7,309.4 199.9,309.8 199.1,310.4 198.3,311.1 197.5,311.9 196.9,312.8 196.2,313.8 195.6,315.0 195.1,316.2 194.7,317.4 194.3,318.7 194.1,320.1 193.9,321.4 193.8,322.8 193.8,324.1 193.9,325.4 194.1,326.6 194.3,327.8 194.7,328.9 195.1,329.9 195.6,330.9 196.2,331.7 196.8,332.3 197.5,332.9" fill="none" stroke="#5a5a5a" stroke-width="0.5" stroke-dasharray="1.5 1"/>
<polyline points="204.5,309.6 203.7,309.9 202.8,310.3 202.0,310.9 201.2,311.6 200.5,312.4 199.8,313.3 199.2,314.3 198.6,315.5 198.1,316.7 197.6,317.9 197.3,319.2 197.0,320.6 196.8,321.9 196.7,323.2 196.7,324.6 196.8,325.9 197.0,327.1 197.3,328.3 197.6,329.4 198.1,330.4 198.6,331.4 199.2,332.2 199.8,332.8 200.5,333.4" fill="none" stroke="#5a5a5a" stroke-width="0.5" stroke-dasharray="1.5 1"/>
<polyline points="207.5,310.1 206.6,310.4 205.8,310.8 205.0,311.4 204.2,312.0 203.5,312.9 202.8,313.8 202.1,314.8 201.5,316.0 201.0,317.2 200.6,318.4 200.2,319.7 200.0,321.0 199.8,322.4 199.7,323.7 199.7,325.1 199.8,326.4 200.0,327.6 200.2,328.8 200.6,329.9 201.0,330.9 201.5,331.9 202.1,332.7 202.8,333.3 203.5,333.9" fill="none" stroke="#5a5a5a" stroke-width="0.5" stroke-dasharray="1.5 1"/>
<polyline points="271.9,322.1 271.2,322.4 270.5,322.9 269.8,323.4 269.2,324.1 268.5,324.9 267.9,325.7 267.4,326.6 266.9,327.6 266.5,328.7 266.1,329.8 265.8,330.9 265.6,332.1 265.4,333.2 265.4,334.4 265.3,335.6 265.4,336.7 265.5,337.8 265.7,338.8 266.0,339.8 266.4,340.8 266.8,341.6 267.2,342.4 267.7,343.0 268.3,343.6" fill="none" stroke="#5a5a5a" stroke-width="0.5" stroke-dasharray="2 1.5"/>
<path d="M340.6,327.5 A9.7 16.2 9.3 1 1 335.4,359.5 A9.7 16.2 9.3 1 1 340.6,327.5 Z" fill="none" stroke="#66667e" stroke-width="4.0" />
<path d="M340.6,327.5 A9.7 16.2 9.3 1 1 335.4,359.5 A9.7 16.2 9.3 1 1 340.6,327.5 Z" fill="none" stroke="#b4b4cc" stroke-width="2.8" />
<polyline points="337.9,359.9 340.1,359.9 342.3,359.4 344.5,358.2 346.5,356.5 348.4,354.3 350.0,351.7 351.3,348.9 352.2,345.8 352.8,342.7 353.0,339.7 352.9,336.8 352.3,334.2 351.5,332.0 350.3,330.3 348.9,329.2 347.4,328.6" fill="none" stroke="#6a6a7c" stroke-width="3.8"/>
<polyline points="337.9,359.9 340.1,359.9 342.3,359.4 344.5,358.2 346.5,356.5 348.4,354.3 350.0,351.7 351.3,348.9 352.2,345.8 352.8,342.7 353.0,339.7 352.9,336.8 352.3,334.2 351.5,332.0 350.3,330.3 348.9,329.2 347.4,328.6" fill="none" stroke="#a6a6ba" stroke-width="2.6"/>
<polyline points="346.4,361.3 348.6,361.3 350.8,360.7 353.0,359.6 355.0,357.9 356.9,355.7 358.5,353.1 359.8,350.3 360.7,347.2 361.3,344.1 361.5,341.1 361.4,338.2 360.8,335.6 360.0,333.4 358.8,331.7 357.4,330.6 355.9,330.0" fill="none" stroke="#6a6a7c" stroke-width="3.8"/>
<polyline points="346.4,361.3 348.6,361.3 350.8,360.7 353.0,359.6 355.0,357.9 356.9,355.7 358.5,353.1 359.8,350.3 360.7,347.2 361.3,344.1 361.5,341.1 361.4,338.2 360.8,335.6 360.0,333.4 358.8,331.7 357.4,330.6 355.9,330.0" fill="none" stroke="#a6a6ba" stroke-width="2.6"/>
<polyline points="354.9,362.7 357.1,362.7 359.3,362.1 361.5,361.0 363.5,359.3 365.4,357.1 367.0,354.5 368.3,351.6 369.2,348.6 369.8,345.5 370.0,342.4 369.9,339.6 369.3,337.0 368.5,334.8 367.3,333.1 365.9,332.0 364.4,331.4" fill="none" stroke="#6a6a7c" stroke-width="3.8"/>
<polyline points="354.9,362.7 357.1,362.7 359.3,362.1 361.5,361.0 363.5,359.3 365.4,357.1 367.0,354.5 368.3,351.6 369.2,348.6 369.8,345.5 370.0,342.4 369.9,339.6 369.3,337.0 368.5,334.8 367.3,333.1 365.9,332.0 364.4,331.4" fill="none" stroke="#a6a6ba" stroke-width="2.6"/>
<polyline points="363.4,364.1 365.6,364.1 367.8,363.5 370.0,362.4 372.0,360.7 373.9,358.5 375.5,355.9 376.8,353.0 377.7,350.0 378.3,346.9 378.5,343.8 378.4,341.0 377.8,338.4 377.0,336.2 375.8,334.5 374.4,333.3 372.9,332.8" fill="none" stroke="#6a6a7c" stroke-width="3.8"/>
<polyline points="363.4,364.1 365.6,364.1 367.8,363.5 370.0,362.4 372.0,360.7 373.9,358.5 375.5,355.9 376.8,353.0 377.7,350.0 378.3,346.9 378.5,343.8 378.4,341.0 377.8,338.4 377.0,336.2 375.8,334.5 374.4,333.3 372.9,332.8" fill="none" stroke="#a6a6ba" stroke-width="2.6"/>
<polyline points="371.9,365.5 374.1,365.5 376.3,364.9 378.5,363.8 380.5,362.1 382.4,359.9 384.0,357.3 385.3,354.4 386.2,351.4 386.8,348.3 387.0,345.2 386.9,342.4 386.3,339.8 385.5,337.6 384.3,335.9 382.9,334.7 381.4,334.2" fill="none" stroke="#6a6a7c" stroke-width="3.8"/>
<polyline points="371.9,365.5 374.1,365.5 376.3,364.9 378.5,363.8 380.5,362.1 382.4,359.9 384.0,357.3 385.3,354.4 386.2,351.4 386.8,348.3 387.0,345.2 386.9,342.4 386.3,339.8 385.5,337.6 384.3,335.9 382.9,334.7 381.4,334.2" fill="none" stroke="#a6a6ba" stroke-width="2.6"/>
<polyline points="380.4,366.8 382.6,366.9 384.8,366.3 387.0,365.1 389.0,363.4 390.9,361.3 392.5,358.7 393.8,355.8 394.7,352.8 395.3,349.7 395.6,346.6 395.4,343.8 394.9,341.2 394.0,339.0 392.8,337.3 391.5,336.1 389.9,335.6" fill="none" stroke="#6a6a7c" stroke-width="3.8"/>
<polyline points="380.4,366.8 382.6,366.9 384.8,366.3 387.0,365.1 389.0,363.4 390.9,361.3 392.5,358.7 393.8,355.8 394.7,352.8 395.3,349.7 395.6,346.6 395.4,343.8 394.9,341.2 394.0,339.0 392.8,337.3 391.5,336.1 389.9,335.6" fill="none" stroke="#a6a6ba" stroke-width="2.6"/>
<polyline points="388.9,368.2 391.1,368.3 393.3,367.7 395.5,366.5 397.5,364.8 399.4,362.6 401.0,360.1 402.3,357.2 403.3,354.2 403.8,351.1 404.1,348.0 403.9,345.1 403.4,342.6 402.5,340.4 401.3,338.7 400.0,337.5 398.4,337.0" fill="none" stroke="#6a6a7c" stroke-width="3.8"/>
<polyline points="388.9,368.2 391.1,368.3 393.3,367.7 395.5,366.5 397.5,364.8 399.4,362.6 401.0,360.1 402.3,357.2 403.3,354.2 403.8,351.1 404.1,348.0 403.9,345.1 403.4,342.6 402.5,340.4 401.3,338.7 400.0,337.5 398.4,337.0" fill="none" stroke="#a6a6ba" stroke-width="2.6"/>
<polyline points="397.4,369.6 399.6,369.7 401.8,369.1 404.0,367.9 406.0,366.2 407.9,364.0 409.5,361.5 410.8,358.6 411.8,355.6 412.4,352.4 412.6,349.4 412.4,346.5 411.9,344.0 411.0,341.8 409.9,340.1 408.5,338.9 406.9,338.3" fill="none" stroke="#6a6a7c" stroke-width="3.8"/>
<polyline points="397.4,369.6 399.6,369.7 401.8,369.1 404.0,367.9 406.0,366.2 407.9,364.0 409.5,361.5 410.8,358.6 411.8,355.6 412.4,352.4 412.6,349.4 412.4,346.5 411.9,344.0 411.0,341.8 409.9,340.1 408.5,338.9 406.9,338.3" fill="none" stroke="#a6a6ba" stroke-width="2.6"/>
<polyline points="405.9,371.0 408.1,371.1 410.3,370.5 412.5,369.3 414.5,367.6 416.4,365.4 418.0,362.9 419.3,360.0 420.3,356.9 420.9,353.8 421.1,350.8 420.9,347.9 420.4,345.4 419.5,343.2 418.4,341.5 417.0,340.3 415.4,339.7" fill="none" stroke="#6a6a7c" stroke-width="3.8"/>
<polyline points="405.9,371.0 408.1,371.1 410.3,370.5 412.5,369.3 414.5,367.6 416.4,365.4 418.0,362.9 419.3,360.0 420.3,356.9 420.9,353.8 421.1,350.8 420.9,347.9 420.4,345.4 419.5,343.2 418.4,341.5 417.0,340.3 415.4,339.7" fill="none" stroke="#a6a6ba" stroke-width="2.6"/>
<polyline points="414.4,372.4 416.6,372.4 418.8,371.9 421.0,370.7 423.1,369.0 424.9,366.8 426.5,364.2 427.8,361.4 428.8,358.3 429.4,355.2 429.6,352.2 429.4,349.3 428.9,346.7 428.0,344.6 426.9,342.9 425.5,341.7 423.9,341.1" fill="none" stroke="#6a6a7c" stroke-width="3.8"/>
<polyline points="414.4,372.4 416.6,372.4 418.8,371.9 421.0,370.7 423.1,369.0 424.9,366.8 426.5,364.2 427.8,361.4 428.8,358.3 429.4,355.2 429.6,352.2 429.4,349.3 428.9,346.7 428.0,344.6 426.9,342.9 425.5,341.7 423.9,341.1" fill="none" stroke="#a6a6ba" stroke-width="2.6"/>
<polyline points="422.9,373.8 425.1,373.8 427.3,373.3 429.5,372.1 431.6,370.4 433.4,368.2 435.0,365.6 436.3,362.8 437.3,359.7 437.9,356.6 438.1,353.6 437.9,350.7 437.4,348.1 436.5,346.0 435.4,344.2 434.0,343.1 432.4,342.5" fill="none" stroke="#6a6a7c" stroke-width="3.8"/>
<polyline points="422.9,373.8 425.1,373.8 427.3,373.3 429.5,372.1 431.6,370.4 433.4,368.2 435.0,365.6 436.3,362.8 437.3,359.7 437.9,356.6 438.1,353.6 437.9,350.7 437.4,348.1 436.5,346.0 435.4,344.2 434.0,343.1 432.4,342.5" fill="none" stroke="#a6a6ba" stroke-width="2.6"/>
<polyline points="431.5,375.2 433.6,375.2 435.9,374.7 438.0,373.5 440.1,371.8 441.9,369.6 443.5,367.0 444.8,364.2 445.8,361.1 446.4,358.0 446.6,355.0 446.4,352.1 445.9,349.5 445.0,347.3 443.9,345.6 442.5,344.5 440.9,343.9" fill="none" stroke="#6a6a7c" stroke-width="3.8"/>
<polyline points="431.5,375.2 433.6,375.2 435.9,374.7 438.0,373.5 440.1,371.8 441.9,369.6 443.5,367.0 444.8,364.2 445.8,361.1 446.4,358.0 446.6,355.0 446.4,352.1 445.9,349.5 445.0,347.3 443.9,345.6 442.5,344.5 440.9,343.9" fill="none" stroke="#a6a6ba" stroke-width="2.6"/>
<polyline points="440.0,376.6 442.1,376.6 444.4,376.0 446.5,374.9 448.6,373.2 450.4,371.0 452.0,368.4 453.3,365.6 454.3,362.5 454.9,359.4 455.1,356.4 454.9,353.5 454.4,350.9 453.5,348.7 452.4,347.0 451.0,345.9 449.4,345.3" fill="none" stroke="#6a6a7c" stroke-width="3.8"/>
<polyline points="440.0,376.6 442.1,376.6 444.4,376.0 446.5,374.9 448.6,373.2 450.4,371.0 452.0,368.4 453.3,365.6 454.3,362.5 454.9,359.4 455.1,356.4 454.9,353.5 454.4,350.9 453.5,348.7 452.4,347.0 451.0,345.9 449.4,345.3" fill="none" stroke="#a6a6ba" stroke-width="2.6"/>
<polyline points="448.5,378.0 450.7,378.0 452.9,377.4 455.0,376.3 457.1,374.6 458.9,372.4 460.5,369.8 461.8,366.9 462.8,363.9 463.4,360.8 463.6,357.7 463.4,354.9 462.9,352.3 462.0,350.1 460.9,348.4 459.5,347.3 457.9,346.7" fill="none" stroke="#6a6a7c" stroke-width="3.8"/>
<polyline points="448.5,378.0 450.7,378.0 452.9,377.4 455.0,376.3 457.1,374.6 458.9,372.4 460.5,369.8 461.8,366.9 462.8,363.9 463.4,360.8 463.6,357.7 463.4,354.9 462.9,352.3 462.0,350.1 460.9,348.4 459.5,347.3 457.9,346.7" fill="none" stroke="#a6a6ba" stroke-width="2.6"/>
<polyline points="457.0,379.4 459.2,379.4 461.4,378.8 463.5,377.7 465.6,376.0 467.4,373.8 469.0,371.2 470.3,368.3 471.3,365.3 471.9,362.2 472.1,359.1 471.9,356.3 471.4,353.7 470.5,351.5 469.4,349.8 468.0,348.6 466.5,348.1" fill="none" stroke="#6a6a7c" stroke-width="3.8"/>
<polyline points="457.0,379.4 459.2,379.4 461.4,378.8 463.5,377.7 465.6,376.0 467.4,373.8 469.0,371.2 470.3,368.3 471.3,365.3 471.9,362.2 472.1,359.1 471.9,356.3 471.4,353.7 470.5,351.5 469.4,349.8 468.0,348.6 466.5,348.1" fill="none" stroke="#a6a6ba" stroke-width="2.6"/>
<polyline points="465.5,380.7 467.7,380.8 469.9,380.2 472.0,379.1 474.1,377.3 475.9,375.2 477.5,372.6 478.9,369.7 479.8,366.7 480.4,363.6 480.6,360.5 480.4,357.7 479.9,355.1 479.0,352.9 477.9,351.2 476.5,350.0 475.0,349.5" fill="none" stroke="#6a6a7c" stroke-width="3.8"/>
<polyline points="465.5,380.7 467.7,380.8 469.9,380.2 472.0,379.1 474.1,377.3 475.9,375.2 477.5,372.6 478.9,369.7 479.8,366.7 480.4,363.6 480.6,360.5 480.4,357.7 479.9,355.1 479.0,352.9 477.9,351.2 476.5,350.0 475.0,349.5" fill="none" stroke="#a6a6ba" stroke-width="2.6"/>
<polyline points="474.0,382.1 476.2,382.2 478.4,381.6 480.6,380.4 482.6,378.7 484.5,376.6 486.1,374.0 487.4,371.1 488.3,368.1 488.9,365.0 489.1,361.9 488.9,359.1 488.4,356.5 487.6,354.3 486.4,352.6 485.0,351.4 483.5,350.9" fill="none" stroke="#6a6a7c" stroke-width="3.8"/>
<polyline points="474.0,382.1 476.2,382.2 478.4,381.6 480.6,380.4 482.6,378.7 484.5,376.6 486.1,374.0 487.4,371.1 488.3,368.1 488.9,365.0 489.1,361.9 488.9,359.1 488.4,356.5 487.6,354.3 486.4,352.6 485.0,351.4 483.5,350.9" fill="none" stroke="#a6a6ba" stroke-width="2.6"/>
<polyline points="482.5,383.5 484.7,383.6 486.9,383.0 489.1,381.8 491.1,380.1 493.0,377.9 494.6,375.4 495.9,372.5 496.8,369.5 497.4,366.4 497.6,363.3 497.5,360.4 496.9,357.9 496.1,355.7 494.9,354.0 493.5,352.8 492.0,352.3" fill="none" stroke="#6a6a7c" stroke-width="3.8"/>
<polyline points="482.5,383.5 484.7,383.6 486.9,383.0 489.1,381.8 491.1,380.1 493.0,377.9 494.6,375.4 495.9,372.5 496.8,369.5 497.4,366.4 497.6,363.3 497.5,360.4 496.9,357.9 496.1,355.7 494.9,354.0 493.5,352.8 492.0,352.3" fill="none" stroke="#a6a6ba" stroke-width="2.6"/>
<polyline points="491.0,384.9 493.2,385.0 495.4,384.4 497.6,383.2 499.6,381.5 501.5,379.3 503.1,376.8 504.4,373.9 505.3,370.8 505.9,367.7 506.1,364.7 506.0,361.8 505.4,359.3 504.6,357.1 503.4,355.4 502.0,354.2 500.5,353.6" fill="none" stroke="#6a6a7c" stroke-width="3.8"/>
<polyline points="491.0,384.9 493.2,385.0 495.4,384.4 497.6,383.2 499.6,381.5 501.5,379.3 503.1,376.8 504.4,373.9 505.3,370.8 505.9,367.7 506.1,364.7 506.0,361.8 505.4,359.3 504.6,357.1 503.4,355.4 502.0,354.2 500.5,353.6" fill="none" stroke="#a6a6ba" stroke-width="2.6"/>
<polyline points="499.5,386.3 501.7,386.4 503.9,385.8 506.1,384.6 508.1,382.9 510.0,380.7 511.6,378.2 512.9,375.3 513.8,372.2 514.4,369.1 514.6,366.1 514.5,363.2 513.9,360.6 513.1,358.5 511.9,356.8 510.5,355.6 509.0,355.0" fill="none" stroke="#6a6a7c" stroke-width="3.8"/>
<polyline points="499.5,386.3 501.7,386.4 503.9,385.8 506.1,384.6 508.1,382.9 510.0,380.7 511.6,378.2 512.9,375.3 513.8,372.2 514.4,369.1 514.6,366.1 514.5,363.2 513.9,360.6 513.1,358.5 511.9,356.8 510.5,355.6 509.0,355.0" fill="none" stroke="#a6a6ba" stroke-width="2.6"/>
<polyline points="508.0,387.7 510.2,387.7 512.4,387.2 514.6,386.0 516.6,384.3 518.5,382.1 520.1,379.5 521.4,376.7 522.3,373.6 522.9,370.5 523.1,367.5 523.0,364.6 522.4,362.0 521.6,359.9 520.4,358.2 519.0,357.0 517.5,356.4" fill="none" stroke="#6a6a7c" stroke-width="3.8"/>
<polyline points="508.0,387.7 510.2,387.7 512.4,387.2 514.6,386.0 516.6,384.3 518.5,382.1 520.1,379.5 521.4,376.7 522.3,373.6 522.9,370.5 523.1,367.5 523.0,364.6 522.4,362.0 521.6,359.9 520.4,358.2 519.0,357.0 517.5,356.4" fill="none" stroke="#a6a6ba" stroke-width="2.6"/>
<polyline points="516.5,389.1 518.7,389.1 520.9,388.6 523.1,387.4 525.1,385.7 527.0,383.5 528.6,380.9 529.9,378.1 530.8,375.0 531.4,371.9 531.6,368.9 531.5,366.0 530.9,363.4 530.1,361.2 528.9,359.5 527.6,358.4 526.0,357.8" fill="none" stroke="#6a6a7c" stroke-width="3.8"/>
<polyline points="516.5,389.1 518.7,389.1 520.9,388.6 523.1,387.4 525.1,385.7 527.0,383.5 528.6,380.9 529.9,378.1 530.8,375.0 531.4,371.9 531.6,368.9 531.5,366.0 530.9,363.4 530.1,361.2 528.9,359.5 527.6,358.4 526.0,357.8" fill="none" stroke="#a6a6ba" stroke-width="2.6"/>
<polyline points="525.0,390.5 527.2,390.5 529.4,390.0 531.6,388.8 533.6,387.1 535.5,384.9 537.1,382.3 538.4,379.5 539.4,376.4 539.9,373.3 540.2,370.3 540.0,367.4 539.5,364.8 538.6,362.6 537.4,360.9 536.1,359.8 534.5,359.2" fill="none" stroke="#6a6a7c" stroke-width="3.8"/>
<polyline points="525.0,390.5 527.2,390.5 529.4,390.0 531.6,388.8 533.6,387.1 535.5,384.9 537.1,382.3 538.4,379.5 539.4,376.4 539.9,373.3 540.2,370.3 540.0,367.4 539.5,364.8 538.6,362.6 537.4,360.9 536.1,359.8 534.5,359.2" fill="none" stroke="#a6a6ba" stroke-width="2.6"/>
<polyline points="533.5,391.9 535.7,391.9 537.9,391.3 540.1,390.2 542.1,388.5 544.0,386.3 545.6,383.7 546.9,380.8 547.9,377.8 548.5,374.7 548.7,371.7 548.5,368.8 548.0,366.2 547.1,364.0 545.9,362.3 544.6,361.2 543.0,360.6" fill="none" stroke="#6a6a7c" stroke-width="3.8"/>
<polyline points="533.5,391.9 535.7,391.9 537.9,391.3 540.1,390.2 542.1,388.5 544.0,386.3 545.6,383.7 546.9,380.8 547.9,377.8 548.5,374.7 548.7,371.7 548.5,368.8 548.0,366.2 547.1,364.0 545.9,362.3 544.6,361.2 543.0,360.6" fill="none" stroke="#a6a6ba" stroke-width="2.6"/>
<polyline points="542.0,393.3 544.2,393.3 546.4,392.7 548.6,391.6 550.6,389.9 552.5,387.7 554.1,385.1 555.4,382.2 556.4,379.2 557.0,376.1 557.2,373.0 557.0,370.2 556.5,367.6 555.6,365.4 554.5,363.7 553.1,362.6 551.5,362.0" fill="none" stroke="#6a6a7c" stroke-width="3.8"/>
<polyline points="542.0,393.3 544.2,393.3 546.4,392.7 548.6,391.6 550.6,389.9 552.5,387.7 554.1,385.1 555.4,382.2 556.4,379.2 557.0,376.1 557.2,373.0 557.0,370.2 556.5,367.6 555.6,365.4 554.5,363.7 553.1,362.6 551.5,362.0" fill="none" stroke="#a6a6ba" stroke-width="2.6"/>
<polyline points="550.5,394.7 552.7,394.7 554.9,394.1 557.1,393.0 559.2,391.3 561.0,389.1 562.6,386.5 563.9,383.6 564.9,380.6 565.5,377.5 565.7,374.4 565.5,371.6 565.0,369.0 564.1,366.8 563.0,365.1 561.6,363.9 560.0,363.4" fill="none" stroke="#6a6a7c" stroke-width="3.8"/>
<polyline points="550.5,394.7 552.7,394.7 554.9,394.1 557.1,393.0 559.2,391.3 561.0,389.1 562.6,386.5 563.9,383.6 564.9,380.6 565.5,377.5 565.7,374.4 565.5,371.6 565.0,369.0 564.1,366.8 563.0,365.1 561.6,363.9 560.0,363.4" fill="none" stroke="#a6a6ba" stroke-width="2.6"/>
<polyline points="559.0,396.0 561.2,396.1 563.4,395.5 565.6,394.4 567.7,392.6 569.5,390.5 571.1,387.9 572.4,385.0 573.4,382.0 574.0,378.9 574.2,375.8 574.0,373.0 573.5,370.4 572.6,368.2 571.5,366.5 570.1,365.3 568.5,364.8" fill="none" stroke="#6a6a7c" stroke-width="3.8"/>
<polyline points="559.0,396.0 561.2,396.1 563.4,395.5 565.6,394.4 567.7,392.6 569.5,390.5 571.1,387.9 572.4,385.0 573.4,382.0 574.0,378.9 574.2,375.8 574.0,373.0 573.5,370.4 572.6,368.2 571.5,366.5 570.1,365.3 568.5,364.8" fill="none" stroke="#a6a6ba" stroke-width="2.6"/>
<polyline points="567.6,397.4 569.7,397.5 572.0,396.9 574.1,395.7 576.2,394.0 578.0,391.9 579.6,389.3 580.9,386.4 581.9,383.4 582.5,380.3 582.7,377.2 582.5,374.4 582.0,371.8 581.1,369.6 580.0,367.9 578.6,366.7 577.0,366.2" fill="none" stroke="#6a6a7c" stroke-width="3.8"/>
<polyline points="567.6,397.4 569.7,397.5 572.0,396.9 574.1,395.7 576.2,394.0 578.0,391.9 579.6,389.3 580.9,386.4 581.9,383.4 582.5,380.3 582.7,377.2 582.5,374.4 582.0,371.8 581.1,369.6 580.0,367.9 578.6,366.7 577.0,366.2" fill="none" stroke="#a6a6ba" stroke-width="2.6"/>
<polyline points="576.1,398.8 578.2,398.9 580.5,398.3 582.6,397.1 584.7,395.4 586.5,393.2 588.1,390.7 589.4,387.8 590.4,384.8 591.0,381.7 591.2,378.6 591.0,375.7 590.5,373.2 589.6,371.0 588.5,369.3 587.1,368.1 585.5,367.5" fill="none" stroke="#6a6a7c" stroke-width="3.8"/>
<polyline points="576.1,398.8 578.2,398.9 580.5,398.3 582.6,397.1 584.7,395.4 586.5,393.2 588.1,390.7 589.4,387.8 590.4,384.8 591.0,381.7 591.2,378.6 591.0,375.7 590.5,373.2 589.6,371.0 588.5,369.3 587.1,368.1 585.5,367.5" fill="none" stroke="#a6a6ba" stroke-width="2.6"/>
<polyline points="584.6,400.2 586.8,400.3 589.0,399.7 591.1,398.5 593.2,396.8 595.0,394.6 596.6,392.1 597.9,389.2 598.9,386.1 599.5,383.0 599.7,380.0 599.5,377.1 599.0,374.6 598.1,372.4 597.0,370.7 595.6,369.5 594.0,368.9" fill="none" stroke="#6a6a7c" stroke-width="3.8"/>
<polyline points="584.6,400.2 586.8,400.3 589.0,399.7 591.1,398.5 593.2,396.8 595.0,394.6 596.6,392.1 597.9,389.2 598.9,386.1 599.5,383.0 599.7,380.0 599.5,377.1 599.0,374.6 598.1,372.4 597.0,370.7 595.6,369.5 594.0,368.9" fill="none" stroke="#a6a6ba" stroke-width="2.6"/>
<polyline points="593.1,401.6 595.3,401.7 597.5,401.1 599.6,399.9 601.7,398.2 603.5,396.0 605.1,393.5 606.4,390.6 607.4,387.5 608.0,384.4 608.2,381.4 608.0,378.5 607.5,375.9 606.6,373.8 605.5,372.1 604.1,370.9 602.6,370.3" fill="none" stroke="#6a6a7c" stroke-width="3.8"/>
<polyline points="593.1,401.6 595.3,401.7 597.5,401.1 599.6,399.9 601.7,398.2 603.5,396.0 605.1,393.5 606.4,390.6 607.4,387.5 608.0,384.4 608.2,381.4 608.0,378.5 607.5,375.9 606.6,373.8 605.5,372.1 604.1,370.9 602.6,370.3" fill="none" stroke="#a6a6ba" stroke-width="2.6"/>
<polyline points="601.6,403.0 603.8,403.0 606.0,402.5 608.1,401.3 610.2,399.6 612.0,397.4 613.6,394.8 614.9,392.0 615.9,388.9 616.5,385.8 616.7,382.8 616.5,379.9 616.0,377.3 615.1,375.2 614.0,373.5 612.6,372.3 611.1,371.7" fill="none" stroke="#6a6a7c" stroke-width="3.8"/>
<polyline points="601.6,403.0 603.8,403.0 606.0,402.5 608.1,401.3 610.2,399.6 612.0,397.4 613.6,394.8 614.9,392.0 615.9,388.9 616.5,385.8 616.7,382.8 616.5,379.9 616.0,377.3 615.1,375.2 614.0,373.5 612.6,372.3 611.1,371.7" fill="none" stroke="#a6a6ba" stroke-width="2.6"/>
<polyline points="610.1,404.4 612.3,404.4 614.5,403.9 616.6,402.7 618.7,401.0 620.5,398.8 622.2,396.2 623.5,393.4 624.4,390.3 625.0,387.2 625.2,384.2 625.0,381.3 624.5,378.7 623.7,376.5 622.5,374.8 621.1,373.7 619.6,373.1" fill="none" stroke="#6a6a7c" stroke-width="3.8"/>
<polyline points="610.1,404.4 612.3,404.4 614.5,403.9 616.6,402.7 618.7,401.0 620.5,398.8 622.2,396.2 623.5,393.4 624.4,390.3 625.0,387.2 625.2,384.2 625.0,381.3 624.5,378.7 623.7,376.5 622.5,374.8 621.1,373.7 619.6,373.1" fill="none" stroke="#a6a6ba" stroke-width="2.6"/>
<polyline points="618.6,405.8 620.8,405.8 623.0,405.3 625.2,404.1 627.2,402.4 629.1,400.2 630.7,397.6 632.0,394.8 632.9,391.7 633.5,388.6 633.7,385.6 633.6,382.7 633.0,380.1 632.2,377.9 631.0,376.2 629.6,375.1 628.1,374.5" fill="none" stroke="#6a6a7c" stroke-width="3.8"/>
<polyline points="618.6,405.8 620.8,405.8 623.0,405.3 625.2,404.1 627.2,402.4 629.1,400.2 630.7,397.6 632.0,394.8 632.9,391.7 633.5,388.6 633.7,385.6 633.6,382.7 633.0,380.1 632.2,377.9 631.0,376.2 629.6,375.1 628.1,374.5" fill="none" stroke="#a6a6ba" stroke-width="2.6"/>
<polyline points="627.1,407.2 629.3,407.2 631.5,406.6 633.7,405.5 635.7,403.8 637.6,401.6 639.2,399.0 640.5,396.1 641.4,393.1 642.0,390.0 642.2,387.0 642.1,384.1 641.5,381.5 640.7,379.3 639.5,377.6 638.1,376.5 636.6,375.9" fill="none" stroke="#6a6a7c" stroke-width="3.8"/>
<polyline points="627.1,407.2 629.3,407.2 631.5,406.6 633.7,405.5 635.7,403.8 637.6,401.6 639.2,399.0 640.5,396.1 641.4,393.1 642.0,390.0 642.2,387.0 642.1,384.1 641.5,381.5 640.7,379.3 639.5,377.6 638.1,376.5 636.6,375.9" fill="none" stroke="#a6a6ba" stroke-width="2.6"/>
<polyline points="635.6,408.6 637.8,408.6 640.0,408.0 642.2,406.9 644.2,405.2 646.1,403.0 647.7,400.4 649.0,397.5 649.9,394.5 650.5,391.4 650.7,388.3 650.6,385.5 650.0,382.9 649.2,380.7 648.0,379.0 646.6,377.9 645.1,377.3" fill="none" stroke="#6a6a7c" stroke-width="3.8"/>
<polyline points="635.6,408.6 637.8,408.6 640.0,408.0 642.2,406.9 644.2,405.2 646.1,403.0 647.7,400.4 649.0,397.5 649.9,394.5 650.5,391.4 650.7,388.3 650.6,385.5 650.0,382.9 649.2,380.7 648.0,379.0 646.6,377.9 645.1,377.3" fill="none" stroke="#a6a6ba" stroke-width="2.6"/>
<polyline points="644.1,410.0 646.3,410.0 648.5,409.4 650.7,408.3 652.7,406.6 654.6,404.4 656.2,401.8 657.5,398.9 658.4,395.9 659.0,392.8 659.2,389.7 659.1,386.9 658.5,384.3 657.7,382.1 656.5,380.4 655.1,379.2 653.6,378.7" fill="none" stroke="#6a6a7c" stroke-width="3.8"/>
<polyline points="644.1,410.0 646.3,410.0 648.5,409.4 650.7,408.3 652.7,406.6 654.6,404.4 656.2,401.8 657.5,398.9 658.4,395.9 659.0,392.8 659.2,389.7 659.1,386.9 658.5,384.3 657.7,382.1 656.5,380.4 655.1,379.2 653.6,378.7" fill="none" stroke="#a6a6ba" stroke-width="2.6"/>
<polyline points="652.6,411.3 654.8,411.4 657.0,410.8 659.2,409.7 661.2,407.9 663.1,405.8 664.7,403.2 666.0,400.3 666.9,397.3 667.5,394.2 667.7,391.1 667.6,388.3 667.0,385.7 666.2,383.5 665.0,381.8 663.6,380.6 662.1,380.1" fill="none" stroke="#6a6a7c" stroke-width="3.8"/>
<polyline points="652.6,411.3 654.8,411.4 657.0,410.8 659.2,409.7 661.2,407.9 663.1,405.8 664.7,403.2 666.0,400.3 666.9,397.3 667.5,394.2 667.7,391.1 667.6,388.3 667.0,385.7 666.2,383.5 665.0,381.8 663.6,380.6 662.1,380.1" fill="none" stroke="#a6a6ba" stroke-width="2.6"/>
<polyline points="661.1,412.7 663.3,412.8 665.5,412.2 667.7,411.0 669.7,409.3 671.6,407.2 673.2,404.6 674.5,401.7 675.5,398.7 676.0,395.6 676.3,392.5 676.1,389.6 675.6,387.1 674.7,384.9 673.5,383.2 672.2,382.0 670.6,381.5" fill="none" stroke="#6a6a7c" stroke-width="3.8"/>
<polyline points="661.1,412.7 663.3,412.8 665.5,412.2 667.7,411.0 669.7,409.3 671.6,407.2 673.2,404.6 674.5,401.7 675.5,398.7 676.0,395.6 676.3,392.5 676.1,389.6 675.6,387.1 674.7,384.9 673.5,383.2 672.2,382.0 670.6,381.5" fill="none" stroke="#a6a6ba" stroke-width="2.6"/>
<polyline points="669.6,414.1 671.8,414.2 674.0,413.6 676.2,412.4 678.2,410.7 680.1,408.5 681.7,406.0 683.0,403.1 684.0,400.1 684.5,396.9 684.8,393.9 684.6,391.0 684.1,388.5 683.2,386.3 682.0,384.6 680.7,383.4 679.1,382.8" fill="none" stroke="#6a6a7c" stroke-width="3.8"/>
<polyline points="669.6,414.1 671.8,414.2 674.0,413.6 676.2,412.4 678.2,410.7 680.1,408.5 681.7,406.0 683.0,403.1 684.0,400.1 684.5,396.9 684.8,393.9 684.6,391.0 684.1,388.5 683.2,386.3 682.0,384.6 680.7,383.4 679.1,382.8" fill="none" stroke="#a6a6ba" stroke-width="2.6"/>
<polyline points="678.1,415.5 680.3,415.6 682.5,415.0 684.7,413.8 686.7,412.1 688.6,409.9 690.2,407.4 691.5,404.5 692.5,401.4 693.1,398.3 693.3,395.3 693.1,392.4 692.6,389.9 691.7,387.7 690.6,386.0 689.2,384.8 687.6,384.2" fill="none" stroke="#6a6a7c" stroke-width="3.8"/>
<polyline points="678.1,415.5 680.3,415.6 682.5,415.0 684.7,413.8 686.7,412.1 688.6,409.9 690.2,407.4 691.5,404.5 692.5,401.4 693.1,398.3 693.3,395.3 693.1,392.4 692.6,389.9 691.7,387.7 690.6,386.0 689.2,384.8 687.6,384.2" fill="none" stroke="#a6a6ba" stroke-width="2.6"/>
<polyline points="686.6,416.9 688.8,417.0 691.0,416.4 693.2,415.2 695.2,413.5 697.1,411.3 698.7,408.7 700.0,405.9 701.0,402.8 701.6,399.7 701.8,396.7 701.6,393.8 701.1,391.2 700.2,389.1 699.1,387.4 697.7,386.2 696.1,385.6" fill="none" stroke="#6a6a7c" stroke-width="3.8"/>
<polyline points="686.6,416.9 688.8,417.0 691.0,416.4 693.2,415.2 695.2,413.5 697.1,411.3 698.7,408.7 700.0,405.9 701.0,402.8 701.6,399.7 701.8,396.7 701.6,393.8 701.1,391.2 700.2,389.1 699.1,387.4 697.7,386.2 696.1,385.6" fill="none" stroke="#a6a6ba" stroke-width="2.6"/>
<polyline points="338.9,327.2 337.2,327.3 335.5,327.9 333.9,329.2 332.4,331.0 331.1,333.2 330.0,335.9 329.2,338.9 328.8,342.0 328.7,345.2 329.0,348.3 329.7,351.3 330.8,353.9 332.2,356.2 333.9,358.0 335.8,359.2 337.9,359.9" fill="none" stroke="#626274" stroke-width="4.4"/>
<polyline points="338.9,327.2 337.2,327.3 335.5,327.9 333.9,329.2 332.4,331.0 331.1,333.2 330.0,335.9 329.2,338.9 328.8,342.0 328.7,345.2 329.0,348.3 329.7,351.3 330.8,353.9 332.2,356.2 333.9,358.0 335.8,359.2 337.9,359.9" fill="none" stroke="#b8b8cc" stroke-width="3.1"/>
<polyline points="338.9,327.2 337.2,327.3 335.5,327.9 333.9,329.2 332.4,331.0 331.1,333.2 330.0,335.9 329.2,338.9 328.8,342.0 328.7,345.2 329.0,348.3 329.7,351.3 330.8,353.9 332.2,356.2 333.9,358.0 335.8,359.2 337.9,359.9" fill="none" stroke="#dcdce8" stroke-width="1.1"/>
<polyline points="347.4,328.6 345.7,328.7 344.0,329.3 342.4,330.6 340.9,332.4 339.6,334.6 338.5,337.3 337.7,340.2 337.3,343.4 337.2,346.6 337.5,349.7 338.2,352.7 339.3,355.3 340.7,357.6 342.4,359.4 344.3,360.6 346.4,361.3" fill="none" stroke="#626274" stroke-width="4.4"/>
<polyline points="347.4,328.6 345.7,328.7 344.0,329.3 342.4,330.6 340.9,332.4 339.6,334.6 338.5,337.3 337.7,340.2 337.3,343.4 337.2,346.6 337.5,349.7 338.2,352.7 339.3,355.3 340.7,357.6 342.4,359.4 344.3,360.6 346.4,361.3" fill="none" stroke="#b8b8cc" stroke-width="3.1"/>
<polyline points="347.4,328.6 345.7,328.7 344.0,329.3 342.4,330.6 340.9,332.4 339.6,334.6 338.5,337.3 337.7,340.2 337.3,343.4 337.2,346.6 337.5,349.7 338.2,352.7 339.3,355.3 340.7,357.6 342.4,359.4 344.3,360.6 346.4,361.3" fill="none" stroke="#dcdce8" stroke-width="1.1"/>
<polyline points="355.9,330.0 354.2,330.0 352.5,330.7 350.9,332.0 349.4,333.7 348.1,336.0 347.0,338.7 346.2,341.6 345.8,344.8 345.7,348.0 346.1,351.1 346.8,354.0 347.8,356.7 349.2,359.0 350.9,360.8 352.8,362.0 354.9,362.7" fill="none" stroke="#626274" stroke-width="4.4"/>
<polyline points="355.9,330.0 354.2,330.0 352.5,330.7 350.9,332.0 349.4,333.7 348.1,336.0 347.0,338.7 346.2,341.6 345.8,344.8 345.7,348.0 346.1,351.1 346.8,354.0 347.8,356.7 349.2,359.0 350.9,360.8 352.8,362.0 354.9,362.7" fill="none" stroke="#b8b8cc" stroke-width="3.1"/>
<polyline points="355.9,330.0 354.2,330.0 352.5,330.7 350.9,332.0 349.4,333.7 348.1,336.0 347.0,338.7 346.2,341.6 345.8,344.8 345.7,348.0 346.1,351.1 346.8,354.0 347.8,356.7 349.2,359.0 350.9,360.8 352.8,362.0 354.9,362.7" fill="none" stroke="#dcdce8" stroke-width="1.1"/>
<polyline points="364.4,331.4 362.7,331.4 361.0,332.1 359.4,333.3 357.9,335.1 356.6,337.4 355.5,340.1 354.7,343.0 354.3,346.2 354.2,349.3 354.6,352.5 355.3,355.4 356.3,358.1 357.7,360.4 359.4,362.2 361.3,363.4 363.4,364.1" fill="none" stroke="#626274" stroke-width="4.4"/>
<polyline points="364.4,331.4 362.7,331.4 361.0,332.1 359.4,333.3 357.9,335.1 356.6,337.4 355.5,340.1 354.7,343.0 354.3,346.2 354.2,349.3 354.6,352.5 355.3,355.4 356.3,358.1 357.7,360.4 359.4,362.2 361.3,363.4 363.4,364.1" fill="none" stroke="#b8b8cc" stroke-width="3.1"/>
<polyline points="364.4,331.4 362.7,331.4 361.0,332.1 359.4,333.3 357.9,335.1 356.6,337.4 355.5,340.1 354.7,343.0 354.3,346.2 354.2,349.3 354.6,352.5 355.3,355.4 356.3,358.1 357.7,360.4 359.4,362.2 361.3,363.4 363.4,364.1" fill="none" stroke="#dcdce8" stroke-width="1.1"/>
<polyline points="372.9,332.8 371.2,332.8 369.5,333.5 367.9,334.7 366.4,336.5 365.1,338.8 364.0,341.5 363.2,344.4 362.8,347.5 362.7,350.7 363.1,353.9 363.8,356.8 364.8,359.5 366.2,361.8 367.9,363.5 369.8,364.8 371.9,365.5" fill="none" stroke="#626274" stroke-width="4.4"/>
<polyline points="372.9,332.8 371.2,332.8 369.5,333.5 367.9,334.7 366.4,336.5 365.1,338.8 364.0,341.5 363.2,344.4 362.8,347.5 362.7,350.7 363.1,353.9 363.8,356.8 364.8,359.5 366.2,361.8 367.9,363.5 369.8,364.8 371.9,365.5" fill="none" stroke="#b8b8cc" stroke-width="3.1"/>
<polyline points="372.9,332.8 371.2,332.8 369.5,333.5 367.9,334.7 366.4,336.5 365.1,338.8 364.0,341.5 363.2,344.4 362.8,347.5 362.7,350.7 363.1,353.9 363.8,356.8 364.8,359.5 366.2,361.8 367.9,363.5 369.8,364.8 371.9,365.5" fill="none" stroke="#dcdce8" stroke-width="1.1"/>
<polyline points="381.4,334.2 379.7,334.2 378.1,334.9 376.4,336.1 374.9,337.9 373.6,340.2 372.5,342.9 371.7,345.8 371.3,348.9 371.3,352.1 371.6,355.3 372.3,358.2 373.3,360.9 374.7,363.1 376.4,364.9 378.3,366.2 380.4,366.8" fill="none" stroke="#626274" stroke-width="4.4"/>
<polyline points="381.4,334.2 379.7,334.2 378.1,334.9 376.4,336.1 374.9,337.9 373.6,340.2 372.5,342.9 371.7,345.8 371.3,348.9 371.3,352.1 371.6,355.3 372.3,358.2 373.3,360.9 374.7,363.1 376.4,364.9 378.3,366.2 380.4,366.8" fill="none" stroke="#b8b8cc" stroke-width="3.1"/>
<polyline points="381.4,334.2 379.7,334.2 378.1,334.9 376.4,336.1 374.9,337.9 373.6,340.2 372.5,342.9 371.7,345.8 371.3,348.9 371.3,352.1 371.6,355.3 372.3,358.2 373.3,360.9 374.7,363.1 376.4,364.9 378.3,366.2 380.4,366.8" fill="none" stroke="#dcdce8" stroke-width="1.1"/>
<polyline points="389.9,335.6 388.2,335.6 386.6,336.3 384.9,337.5 383.4,339.3 382.1,341.6 381.0,344.2 380.2,347.2 379.8,350.3 379.8,353.5 380.1,356.7 380.8,359.6 381.8,362.3 383.2,364.5 384.9,366.3 386.8,367.6 388.9,368.2" fill="none" stroke="#626274" stroke-width="4.4"/>
<polyline points="389.9,335.6 388.2,335.6 386.6,336.3 384.9,337.5 383.4,339.3 382.1,341.6 381.0,344.2 380.2,347.2 379.8,350.3 379.8,353.5 380.1,356.7 380.8,359.6 381.8,362.3 383.2,364.5 384.9,366.3 386.8,367.6 388.9,368.2" fill="none" stroke="#b8b8cc" stroke-width="3.1"/>
<polyline points="389.9,335.6 388.2,335.6 386.6,336.3 384.9,337.5 383.4,339.3 382.1,341.6 381.0,344.2 380.2,347.2 379.8,350.3 379.8,353.5 380.1,356.7 380.8,359.6 381.8,362.3 383.2,364.5 384.9,366.3 386.8,367.6 388.9,368.2" fill="none" stroke="#dcdce8" stroke-width="1.1"/>
<polyline points="398.4,337.0 396.7,337.0 395.1,337.7 393.4,338.9 391.9,340.7 390.6,343.0 389.5,345.6 388.8,348.6 388.3,351.7 388.3,354.9 388.6,358.0 389.3,361.0 390.3,363.7 391.7,365.9 393.4,367.7 395.3,369.0 397.4,369.6" fill="none" stroke="#626274" stroke-width="4.4"/>
<polyline points="398.4,337.0 396.7,337.0 395.1,337.7 393.4,338.9 391.9,340.7 390.6,343.0 389.5,345.6 388.8,348.6 388.3,351.7 388.3,354.9 388.6,358.0 389.3,361.0 390.3,363.7 391.7,365.9 393.4,367.7 395.3,369.0 397.4,369.6" fill="none" stroke="#b8b8cc" stroke-width="3.1"/>
<polyline points="398.4,337.0 396.7,337.0 395.1,337.7 393.4,338.9 391.9,340.7 390.6,343.0 389.5,345.6 388.8,348.6 388.3,351.7 388.3,354.9 388.6,358.0 389.3,361.0 390.3,363.7 391.7,365.9 393.4,367.7 395.3,369.0 397.4,369.6" fill="none" stroke="#dcdce8" stroke-width="1.1"/>
<polyline points="406.9,338.3 405.3,338.4 403.6,339.0 401.9,340.3 400.4,342.1 399.1,344.4 398.0,347.0 397.3,350.0 396.8,353.1 396.8,356.3 397.1,359.4 397.8,362.4 398.9,365.0 400.2,367.3 401.9,369.1 403.8,370.4 405.9,371.0" fill="none" stroke="#626274" stroke-width="4.4"/>
<polyline points="406.9,338.3 405.3,338.4 403.6,339.0 401.9,340.3 400.4,342.1 399.1,344.4 398.0,347.0 397.3,350.0 396.8,353.1 396.8,356.3 397.1,359.4 397.8,362.4 398.9,365.0 400.2,367.3 401.9,369.1 403.8,370.4 405.9,371.0" fill="none" stroke="#b8b8cc" stroke-width="3.1"/>
<polyline points="406.9,338.3 405.3,338.4 403.6,339.0 401.9,340.3 400.4,342.1 399.1,344.4 398.0,347.0 397.3,350.0 396.8,353.1 396.8,356.3 397.1,359.4 397.8,362.4 398.9,365.0 400.2,367.3 401.9,369.1 403.8,370.4 405.9,371.0" fill="none" stroke="#dcdce8" stroke-width="1.1"/>
<polyline points="415.4,339.7 413.8,339.8 412.1,340.4 410.4,341.7 408.9,343.5 407.6,345.8 406.5,348.4 405.8,351.4 405.3,354.5 405.3,357.7 405.6,360.8 406.3,363.8 407.4,366.4 408.8,368.7 410.4,370.5 412.4,371.7 414.4,372.4" fill="none" stroke="#626274" stroke-width="4.4"/>
<polyline points="415.4,339.7 413.8,339.8 412.1,340.4 410.4,341.7 408.9,343.5 407.6,345.8 406.5,348.4 405.8,351.4 405.3,354.5 405.3,357.7 405.6,360.8 406.3,363.8 407.4,366.4 408.8,368.7 410.4,370.5 412.4,371.7 414.4,372.4" fill="none" stroke="#b8b8cc" stroke-width="3.1"/>
<polyline points="415.4,339.7 413.8,339.8 412.1,340.4 410.4,341.7 408.9,343.5 407.6,345.8 406.5,348.4 405.8,351.4 405.3,354.5 405.3,357.7 405.6,360.8 406.3,363.8 407.4,366.4 408.8,368.7 410.4,370.5 412.4,371.7 414.4,372.4" fill="none" stroke="#dcdce8" stroke-width="1.1"/>
<polyline points="423.9,341.1 422.3,341.2 420.6,341.8 418.9,343.1 417.4,344.9 416.1,347.1 415.0,349.8 414.3,352.8 413.8,355.9 413.8,359.1 414.1,362.2 414.8,365.2 415.9,367.8 417.3,370.1 418.9,371.9 420.9,373.1 422.9,373.8" fill="none" stroke="#626274" stroke-width="4.4"/>
<polyline points="423.9,341.1 422.3,341.2 420.6,341.8 418.9,343.1 417.4,344.9 416.1,347.1 415.0,349.8 414.3,352.8 413.8,355.9 413.8,359.1 414.1,362.2 414.8,365.2 415.9,367.8 417.3,370.1 418.9,371.9 420.9,373.1 422.9,373.8" fill="none" stroke="#b8b8cc" stroke-width="3.1"/>
<polyline points="423.9,341.1 422.3,341.2 420.6,341.8 418.9,343.1 417.4,344.9 416.1,347.1 415.0,349.8 414.3,352.8 413.8,355.9 413.8,359.1 414.1,362.2 414.8,365.2 415.9,367.8 417.3,370.1 418.9,371.9 420.9,373.1 422.9,373.8" fill="none" stroke="#dcdce8" stroke-width="1.1"/>
<polyline points="432.4,342.5 430.8,342.6 429.1,343.2 427.5,344.5 425.9,346.3 424.6,348.5 423.5,351.2 422.8,354.1 422.3,357.3 422.3,360.5 422.6,363.6 423.3,366.6 424.4,369.2 425.8,371.5 427.4,373.3 429.4,374.5 431.5,375.2" fill="none" stroke="#626274" stroke-width="4.4"/>
<polyline points="432.4,342.5 430.8,342.6 429.1,343.2 427.5,344.5 425.9,346.3 424.6,348.5 423.5,351.2 422.8,354.1 422.3,357.3 422.3,360.5 422.6,363.6 423.3,366.6 424.4,369.2 425.8,371.5 427.4,373.3 429.4,374.5 431.5,375.2" fill="none" stroke="#b8b8cc" stroke-width="3.1"/>
<polyline points="432.4,342.5 430.8,342.6 429.1,343.2 427.5,344.5 425.9,346.3 424.6,348.5 423.5,351.2 422.8,354.1 422.3,357.3 422.3,360.5 422.6,363.6 423.3,366.6 424.4,369.2 425.8,371.5 427.4,373.3 429.4,374.5 431.5,375.2" fill="none" stroke="#dcdce8" stroke-width="1.1"/>
<polyline points="440.9,343.9 439.3,344.0 437.6,344.6 436.0,345.9 434.4,347.7 433.1,349.9 432.1,352.6 431.3,355.5 430.9,358.7 430.8,361.9 431.1,365.0 431.8,367.9 432.9,370.6 434.3,372.9 436.0,374.7 437.9,375.9 440.0,376.6" fill="none" stroke="#626274" stroke-width="4.4"/>
<polyline points="440.9,343.9 439.3,344.0 437.6,344.6 436.0,345.9 434.4,347.7 433.1,349.9 432.1,352.6 431.3,355.5 430.9,358.7 430.8,361.9 431.1,365.0 431.8,367.9 432.9,370.6 434.3,372.9 436.0,374.7 437.9,375.9 440.0,376.6" fill="none" stroke="#b8b8cc" stroke-width="3.1"/>
<polyline points="440.9,343.9 439.3,344.0 437.6,344.6 436.0,345.9 434.4,347.7 433.1,349.9 432.1,352.6 431.3,355.5 430.9,358.7 430.8,361.9 431.1,365.0 431.8,367.9 432.9,370.6 434.3,372.9 436.0,374.7 437.9,375.9 440.0,376.6" fill="none" stroke="#dcdce8" stroke-width="1.1"/>
<polyline points="449.4,345.3 447.8,345.3 446.1,346.0 444.5,347.3 443.0,349.0 441.6,351.3 440.6,354.0 439.8,356.9 439.4,360.1 439.3,363.3 439.6,366.4 440.3,369.3 441.4,372.0 442.8,374.3 444.5,376.1 446.4,377.3 448.5,378.0" fill="none" stroke="#626274" stroke-width="4.4"/>
<polyline points="449.4,345.3 447.8,345.3 446.1,346.0 444.5,347.3 443.0,349.0 441.6,351.3 440.6,354.0 439.8,356.9 439.4,360.1 439.3,363.3 439.6,366.4 440.3,369.3 441.4,372.0 442.8,374.3 444.5,376.1 446.4,377.3 448.5,378.0" fill="none" stroke="#b8b8cc" stroke-width="3.1"/>
<polyline points="449.4,345.3 447.8,345.3 446.1,346.0 444.5,347.3 443.0,349.0 441.6,351.3 440.6,354.0 439.8,356.9 439.4,360.1 439.3,363.3 439.6,366.4 440.3,369.3 441.4,372.0 442.8,374.3 444.5,376.1 446.4,377.3 448.5,378.0" fill="none" stroke="#dcdce8" stroke-width="1.1"/>
<polyline points="457.9,346.7 456.3,346.7 454.6,347.4 453.0,348.6 451.5,350.4 450.1,352.7 449.1,355.4 448.3,358.3 447.9,361.5 447.8,364.6 448.1,367.8 448.8,370.7 449.9,373.4 451.3,375.7 453.0,377.5 454.9,378.7 457.0,379.4" fill="none" stroke="#626274" stroke-width="4.4"/>
<polyline points="457.9,346.7 456.3,346.7 454.6,347.4 453.0,348.6 451.5,350.4 450.1,352.7 449.1,355.4 448.3,358.3 447.9,361.5 447.8,364.6 448.1,367.8 448.8,370.7 449.9,373.4 451.3,375.7 453.0,377.5 454.9,378.7 457.0,379.4" fill="none" stroke="#b8b8cc" stroke-width="3.1"/>
<polyline points="457.9,346.7 456.3,346.7 454.6,347.4 453.0,348.6 451.5,350.4 450.1,352.7 449.1,355.4 448.3,358.3 447.9,361.5 447.8,364.6 448.1,367.8 448.8,370.7 449.9,373.4 451.3,375.7 453.0,377.5 454.9,378.7 457.0,379.4" fill="none" stroke="#dcdce8" stroke-width="1.1"/>
<polyline points="466.5,348.1 464.8,348.1 463.1,348.8 461.5,350.0 460.0,351.8 458.6,354.1 457.6,356.8 456.8,359.7 456.4,362.8 456.3,366.0 456.6,369.2 457.3,372.1 458.4,374.8 459.8,377.1 461.5,378.8 463.4,380.1 465.5,380.7" fill="none" stroke="#626274" stroke-width="4.4"/>
<polyline points="466.5,348.1 464.8,348.1 463.1,348.8 461.5,350.0 460.0,351.8 458.6,354.1 457.6,356.8 456.8,359.7 456.4,362.8 456.3,366.0 456.6,369.2 457.3,372.1 458.4,374.8 459.8,377.1 461.5,378.8 463.4,380.1 465.5,380.7" fill="none" stroke="#b8b8cc" stroke-width="3.1"/>
<polyline points="466.5,348.1 464.8,348.1 463.1,348.8 461.5,350.0 460.0,351.8 458.6,354.1 457.6,356.8 456.8,359.7 456.4,362.8 456.3,366.0 456.6,369.2 457.3,372.1 458.4,374.8 459.8,377.1 461.5,378.8 463.4,380.1 465.5,380.7" fill="none" stroke="#dcdce8" stroke-width="1.1"/>
<polyline points="475.0,349.5 473.3,349.5 471.6,350.2 470.0,351.4 468.5,353.2 467.1,355.5 466.1,358.2 465.3,361.1 464.9,364.2 464.8,367.4 465.1,370.6 465.8,373.5 466.9,376.2 468.3,378.4 470.0,380.2 471.9,381.5 474.0,382.1" fill="none" stroke="#626274" stroke-width="4.4"/>
<polyline points="475.0,349.5 473.3,349.5 471.6,350.2 470.0,351.4 468.5,353.2 467.1,355.5 466.1,358.2 465.3,361.1 464.9,364.2 464.8,367.4 465.1,370.6 465.8,373.5 466.9,376.2 468.3,378.4 470.0,380.2 471.9,381.5 474.0,382.1" fill="none" stroke="#b8b8cc" stroke-width="3.1"/>
<polyline points="475.0,349.5 473.3,349.5 471.6,350.2 470.0,351.4 468.5,353.2 467.1,355.5 466.1,358.2 465.3,361.1 464.9,364.2 464.8,367.4 465.1,370.6 465.8,373.5 466.9,376.2 468.3,378.4 470.0,380.2 471.9,381.5 474.0,382.1" fill="none" stroke="#dcdce8" stroke-width="1.1"/>
<polyline points="483.5,350.9 481.8,350.9 480.1,351.6 478.5,352.8 477.0,354.6 475.7,356.9 474.6,359.5 473.8,362.5 473.4,365.6 473.3,368.8 473.6,372.0 474.3,374.9 475.4,377.6 476.8,379.8 478.5,381.6 480.4,382.9 482.5,383.5" fill="none" stroke="#626274" stroke-width="4.4"/>
<polyline points="483.5,350.9 481.8,350.9 480.1,351.6 478.5,352.8 477.0,354.6 475.7,356.9 474.6,359.5 473.8,362.5 473.4,365.6 473.3,368.8 473.6,372.0 474.3,374.9 475.4,377.6 476.8,379.8 478.5,381.6 480.4,382.9 482.5,383.5" fill="none" stroke="#b8b8cc" stroke-width="3.1"/>
<polyline points="483.5,350.9 481.8,350.9 480.1,351.6 478.5,352.8 477.0,354.6 475.7,356.9 474.6,359.5 473.8,362.5 473.4,365.6 473.3,368.8 473.6,372.0 474.3,374.9 475.4,377.6 476.8,379.8 478.5,381.6 480.4,382.9 482.5,383.5" fill="none" stroke="#dcdce8" stroke-width="1.1"/>
<polyline points="492.0,352.3 490.3,352.3 488.6,353.0 487.0,354.2 485.5,356.0 484.2,358.3 483.1,360.9 482.3,363.9 481.9,367.0 481.8,370.2 482.2,373.3 482.9,376.3 483.9,379.0 485.3,381.2 487.0,383.0 488.9,384.3 491.0,384.9" fill="none" stroke="#626274" stroke-width="4.4"/>
<polyline points="492.0,352.3 490.3,352.3 488.6,353.0 487.0,354.2 485.5,356.0 484.2,358.3 483.1,360.9 482.3,363.9 481.9,367.0 481.8,370.2 482.2,373.3 482.9,376.3 483.9,379.0 485.3,381.2 487.0,383.0 488.9,384.3 491.0,384.9" fill="none" stroke="#b8b8cc" stroke-width="3.1"/>
<polyline points="492.0,352.3 490.3,352.3 488.6,353.0 487.0,354.2 485.5,356.0 484.2,358.3 483.1,360.9 482.3,363.9 481.9,367.0 481.8,370.2 482.2,373.3 482.9,376.3 483.9,379.0 485.3,381.2 487.0,383.0 488.9,384.3 491.0,384.9" fill="none" stroke="#dcdce8" stroke-width="1.1"/>
<polyline points="500.5,353.6 498.8,353.7 497.1,354.3 495.5,355.6 494.0,357.4 492.7,359.7 491.6,362.3 490.8,365.3 490.4,368.4 490.3,371.6 490.7,374.7 491.4,377.7 492.4,380.3 493.8,382.6 495.5,384.4 497.4,385.7 499.5,386.3" fill="none" stroke="#626274" stroke-width="4.4"/>
<polyline points="500.5,353.6 498.8,353.7 497.1,354.3 495.5,355.6 494.0,357.4 492.7,359.7 491.6,362.3 490.8,365.3 490.4,368.4 490.3,371.6 490.7,374.7 491.4,377.7 492.4,380.3 493.8,382.6 495.5,384.4 497.4,385.7 499.5,386.3" fill="none" stroke="#b8b8cc" stroke-width="3.1"/>
<polyline points="500.5,353.6 498.8,353.7 497.1,354.3 495.5,355.6 494.0,357.4 492.7,359.7 491.6,362.3 490.8,365.3 490.4,368.4 490.3,371.6 490.7,374.7 491.4,377.7 492.4,380.3 493.8,382.6 495.5,384.4 497.4,385.7 499.5,386.3" fill="none" stroke="#dcdce8" stroke-width="1.1"/>
<polyline points="509.0,355.0 507.3,355.1 505.6,355.7 504.0,357.0 502.5,358.8 501.2,361.1 500.1,363.7 499.3,366.7 498.9,369.8 498.8,373.0 499.2,376.1 499.9,379.1 500.9,381.7 502.3,384.0 504.0,385.8 505.9,387.0 508.0,387.7" fill="none" stroke="#626274" stroke-width="4.4"/>
<polyline points="509.0,355.0 507.3,355.1 505.6,355.7 504.0,357.0 502.5,358.8 501.2,361.1 500.1,363.7 499.3,366.7 498.9,369.8 498.8,373.0 499.2,376.1 499.9,379.1 500.9,381.7 502.3,384.0 504.0,385.8 505.9,387.0 508.0,387.7" fill="none" stroke="#b8b8cc" stroke-width="3.1"/>
<polyline points="509.0,355.0 507.3,355.1 505.6,355.7 504.0,357.0 502.5,358.8 501.2,361.1 500.1,363.7 499.3,366.7 498.9,369.8 498.8,373.0 499.2,376.1 499.9,379.1 500.9,381.7 502.3,384.0 504.0,385.8 505.9,387.0 508.0,387.7" fill="none" stroke="#dcdce8" stroke-width="1.1"/>
<polyline points="517.5,356.4 515.8,356.5 514.2,357.1 512.5,358.4 511.0,360.2 509.7,362.4 508.6,365.1 507.8,368.1 507.4,371.2 507.3,374.4 507.7,377.5 508.4,380.5 509.4,383.1 510.8,385.4 512.5,387.2 514.4,388.4 516.5,389.1" fill="none" stroke="#626274" stroke-width="4.4"/>
<polyline points="517.5,356.4 515.8,356.5 514.2,357.1 512.5,358.4 511.0,360.2 509.7,362.4 508.6,365.1 507.8,368.1 507.4,371.2 507.3,374.4 507.7,377.5 508.4,380.5 509.4,383.1 510.8,385.4 512.5,387.2 514.4,388.4 516.5,389.1" fill="none" stroke="#b8b8cc" stroke-width="3.1"/>
<polyline points="517.5,356.4 515.8,356.5 514.2,357.1 512.5,358.4 511.0,360.2 509.7,362.4 508.6,365.1 507.8,368.1 507.4,371.2 507.3,374.4 507.7,377.5 508.4,380.5 509.4,383.1 510.8,385.4 512.5,387.2 514.4,388.4 516.5,389.1" fill="none" stroke="#dcdce8" stroke-width="1.1"/>
<polyline points="526.0,357.8 524.3,357.9 522.7,358.5 521.0,359.8 519.5,361.6 518.2,363.8 517.1,366.5 516.3,369.4 515.9,372.6 515.9,375.8 516.2,378.9 516.9,381.9 517.9,384.5 519.3,386.8 521.0,388.6 522.9,389.8 525.0,390.5" fill="none" stroke="#626274" stroke-width="4.4"/>
<polyline points="526.0,357.8 524.3,357.9 522.7,358.5 521.0,359.8 519.5,361.6 518.2,363.8 517.1,366.5 516.3,369.4 515.9,372.6 515.9,375.8 516.2,378.9 516.9,381.9 517.9,384.5 519.3,386.8 521.0,388.6 522.9,389.8 525.0,390.5" fill="none" stroke="#b8b8cc" stroke-width="3.1"/>
<polyline points="526.0,357.8 524.3,357.9 522.7,358.5 521.0,359.8 519.5,361.6 518.2,363.8 517.1,366.5 516.3,369.4 515.9,372.6 515.9,375.8 516.2,378.9 516.9,381.9 517.9,384.5 519.3,386.8 521.0,388.6 522.9,389.8 525.0,390.5" fill="none" stroke="#dcdce8" stroke-width="1.1"/>
<polyline points="534.5,359.2 532.8,359.2 531.2,359.9 529.5,361.2 528.0,363.0 526.7,365.2 525.6,367.9 524.8,370.8 524.4,374.0 524.4,377.2 524.7,380.3 525.4,383.2 526.4,385.9 527.8,388.2 529.5,390.0 531.4,391.2 533.5,391.9" fill="none" stroke="#626274" stroke-width="4.4"/>
<polyline points="534.5,359.2 532.8,359.2 531.2,359.9 529.5,361.2 528.0,363.0 526.7,365.2 525.6,367.9 524.8,370.8 524.4,374.0 524.4,377.2 524.7,380.3 525.4,383.2 526.4,385.9 527.8,388.2 529.5,390.0 531.4,391.2 533.5,391.9" fill="none" stroke="#b8b8cc" stroke-width="3.1"/>
<polyline points="534.5,359.2 532.8,359.2 531.2,359.9 529.5,361.2 528.0,363.0 526.7,365.2 525.6,367.9 524.8,370.8 524.4,374.0 524.4,377.2 524.7,380.3 525.4,383.2 526.4,385.9 527.8,388.2 529.5,390.0 531.4,391.2 533.5,391.9" fill="none" stroke="#dcdce8" stroke-width="1.1"/>
<polyline points="543.0,360.6 541.4,360.6 539.7,361.3 538.0,362.5 536.5,364.3 535.2,366.6 534.1,369.3 533.4,372.2 532.9,375.4 532.9,378.6 533.2,381.7 533.9,384.6 535.0,387.3 536.3,389.6 538.0,391.4 539.9,392.6 542.0,393.3" fill="none" stroke="#626274" stroke-width="4.4"/>
<polyline points="543.0,360.6 541.4,360.6 539.7,361.3 538.0,362.5 536.5,364.3 535.2,366.6 534.1,369.3 533.4,372.2 532.9,375.4 532.9,378.6 533.2,381.7 533.9,384.6 535.0,387.3 536.3,389.6 538.0,391.4 539.9,392.6 542.0,393.3" fill="none" stroke="#b8b8cc" stroke-width="3.1"/>
<polyline points="543.0,360.6 541.4,360.6 539.7,361.3 538.0,362.5 536.5,364.3 535.2,366.6 534.1,369.3 533.4,372.2 532.9,375.4 532.9,378.6 533.2,381.7 533.9,384.6 535.0,387.3 536.3,389.6 538.0,391.4 539.9,392.6 542.0,393.3" fill="none" stroke="#dcdce8" stroke-width="1.1"/>
<polyline points="551.5,362.0 549.9,362.0 548.2,362.7 546.5,363.9 545.0,365.7 543.7,368.0 542.6,370.7 541.9,373.6 541.4,376.8 541.4,379.9 541.7,383.1 542.4,386.0 543.5,388.7 544.9,391.0 546.5,392.8 548.5,394.0 550.5,394.7" fill="none" stroke="#626274" stroke-width="4.4"/>
<polyline points="551.5,362.0 549.9,362.0 548.2,362.7 546.5,363.9 545.0,365.7 543.7,368.0 542.6,370.7 541.9,373.6 541.4,376.8 541.4,379.9 541.7,383.1 542.4,386.0 543.5,388.7 544.9,391.0 546.5,392.8 548.5,394.0 550.5,394.7" fill="none" stroke="#b8b8cc" stroke-width="3.1"/>
<polyline points="551.5,362.0 549.9,362.0 548.2,362.7 546.5,363.9 545.0,365.7 543.7,368.0 542.6,370.7 541.9,373.6 541.4,376.8 541.4,379.9 541.7,383.1 542.4,386.0 543.5,388.7 544.9,391.0 546.5,392.8 548.5,394.0 550.5,394.7" fill="none" stroke="#dcdce8" stroke-width="1.1"/>
<polyline points="560.0,363.4 558.4,363.4 556.7,364.1 555.0,365.3 553.5,367.1 552.2,369.4 551.1,372.1 550.4,375.0 549.9,378.1 549.9,381.3 550.2,384.5 550.9,387.4 552.0,390.1 553.4,392.4 555.0,394.1 557.0,395.4 559.0,396.0" fill="none" stroke="#626274" stroke-width="4.4"/>
<polyline points="560.0,363.4 558.4,363.4 556.7,364.1 555.0,365.3 553.5,367.1 552.2,369.4 551.1,372.1 550.4,375.0 549.9,378.1 549.9,381.3 550.2,384.5 550.9,387.4 552.0,390.1 553.4,392.4 555.0,394.1 557.0,395.4 559.0,396.0" fill="none" stroke="#b8b8cc" stroke-width="3.1"/>
<polyline points="560.0,363.4 558.4,363.4 556.7,364.1 555.0,365.3 553.5,367.1 552.2,369.4 551.1,372.1 550.4,375.0 549.9,378.1 549.9,381.3 550.2,384.5 550.9,387.4 552.0,390.1 553.4,392.4 555.0,394.1 557.0,395.4 559.0,396.0" fill="none" stroke="#dcdce8" stroke-width="1.1"/>
<polyline points="568.5,364.8 566.9,364.8 565.2,365.5 563.6,366.7 562.0,368.5 560.7,370.8 559.6,373.4 558.9,376.4 558.4,379.5 558.4,382.7 558.7,385.9 559.4,388.8 560.5,391.5 561.9,393.7 563.5,395.5 565.5,396.8 567.6,397.4" fill="none" stroke="#626274" stroke-width="4.4"/>
<polyline points="568.5,364.8 566.9,364.8 565.2,365.5 563.6,366.7 562.0,368.5 560.7,370.8 559.6,373.4 558.9,376.4 558.4,379.5 558.4,382.7 558.7,385.9 559.4,388.8 560.5,391.5 561.9,393.7 563.5,395.5 565.5,396.8 567.6,397.4" fill="none" stroke="#b8b8cc" stroke-width="3.1"/>
<polyline points="568.5,364.8 566.9,364.8 565.2,365.5 563.6,366.7 562.0,368.5 560.7,370.8 559.6,373.4 558.9,376.4 558.4,379.5 558.4,382.7 558.7,385.9 559.4,388.8 560.5,391.5 561.9,393.7 563.5,395.5 565.5,396.8 567.6,397.4" fill="none" stroke="#dcdce8" stroke-width="1.1"/>
<polyline points="577.0,366.2 575.4,366.2 573.7,366.9 572.1,368.1 570.5,369.9 569.2,372.2 568.2,374.8 567.4,377.8 567.0,380.9 566.9,384.1 567.2,387.2 567.9,390.2 569.0,392.9 570.4,395.1 572.1,396.9 574.0,398.2 576.1,398.8" fill="none" stroke="#626274" stroke-width="4.4"/>
<polyline points="577.0,366.2 575.4,366.2 573.7,366.9 572.1,368.1 570.5,369.9 569.2,372.2 568.2,374.8 567.4,377.8 567.0,380.9 566.9,384.1 567.2,387.2 567.9,390.2 569.0,392.9 570.4,395.1 572.1,396.9 574.0,398.2 576.1,398.8" fill="none" stroke="#b8b8cc" stroke-width="3.1"/>
<polyline points="577.0,366.2 575.4,366.2 573.7,366.9 572.1,368.1 570.5,369.9 569.2,372.2 568.2,374.8 567.4,377.8 567.0,380.9 566.9,384.1 567.2,387.2 567.9,390.2 569.0,392.9 570.4,395.1 572.1,396.9 574.0,398.2 576.1,398.8" fill="none" stroke="#dcdce8" stroke-width="1.1"/>
<polyline points="585.5,367.5 583.9,367.6 582.2,368.3 580.6,369.5 579.1,371.3 577.7,373.6 576.7,376.2 575.9,379.2 575.5,382.3 575.4,385.5 575.7,388.6 576.4,391.6 577.5,394.3 578.9,396.5 580.6,398.3 582.5,399.6 584.6,400.2" fill="none" stroke="#626274" stroke-width="4.4"/>
<polyline points="585.5,367.5 583.9,367.6 582.2,368.3 580.6,369.5 579.1,371.3 577.7,373.6 576.7,376.2 575.9,379.2 575.5,382.3 575.4,385.5 575.7,388.6 576.4,391.6 577.5,394.3 578.9,396.5 580.6,398.3 582.5,399.6 584.6,400.2" fill="none" stroke="#b8b8cc" stroke-width="3.1"/>
<polyline points="585.5,367.5 583.9,367.6 582.2,368.3 580.6,369.5 579.1,371.3 577.7,373.6 576.7,376.2 575.9,379.2 575.5,382.3 575.4,385.5 575.7,388.6 576.4,391.6 577.5,394.3 578.9,396.5 580.6,398.3 582.5,399.6 584.6,400.2" fill="none" stroke="#dcdce8" stroke-width="1.1"/>
<polyline points="594.0,368.9 592.4,369.0 590.7,369.6 589.1,370.9 587.6,372.7 586.2,375.0 585.2,377.6 584.4,380.6 584.0,383.7 583.9,386.9 584.2,390.0 584.9,393.0 586.0,395.6 587.4,397.9 589.1,399.7 591.0,401.0 593.1,401.6" fill="none" stroke="#626274" stroke-width="4.4"/>
<polyline points="594.0,368.9 592.4,369.0 590.7,369.6 589.1,370.9 587.6,372.7 586.2,375.0 585.2,377.6 584.4,380.6 584.0,383.7 583.9,386.9 584.2,390.0 584.9,393.0 586.0,395.6 587.4,397.9 589.1,399.7 591.0,401.0 593.1,401.6" fill="none" stroke="#b8b8cc" stroke-width="3.1"/>
<polyline points="594.0,368.9 592.4,369.0 590.7,369.6 589.1,370.9 587.6,372.7 586.2,375.0 585.2,377.6 584.4,380.6 584.0,383.7 583.9,386.9 584.2,390.0 584.9,393.0 586.0,395.6 587.4,397.9 589.1,399.7 591.0,401.0 593.1,401.6" fill="none" stroke="#dcdce8" stroke-width="1.1"/>
<polyline points="602.6,370.3 600.9,370.4 599.2,371.0 597.6,372.3 596.1,374.1 594.7,376.3 593.7,379.0 592.9,382.0 592.5,385.1 592.4,388.3 592.7,391.4 593.4,394.4 594.5,397.0 595.9,399.3 597.6,401.1 599.5,402.3 601.6,403.0" fill="none" stroke="#626274" stroke-width="4.4"/>
<polyline points="602.6,370.3 600.9,370.4 599.2,371.0 597.6,372.3 596.1,374.1 594.7,376.3 593.7,379.0 592.9,382.0 592.5,385.1 592.4,388.3 592.7,391.4 593.4,394.4 594.5,397.0 595.9,399.3 597.6,401.1 599.5,402.3 601.6,403.0" fill="none" stroke="#b8b8cc" stroke-width="3.1"/>
<polyline points="602.6,370.3 600.9,370.4 599.2,371.0 597.6,372.3 596.1,374.1 594.7,376.3 593.7,379.0 592.9,382.0 592.5,385.1 592.4,388.3 592.7,391.4 593.4,394.4 594.5,397.0 595.9,399.3 597.6,401.1 599.5,402.3 601.6,403.0" fill="none" stroke="#dcdce8" stroke-width="1.1"/>
<polyline points="611.1,371.7 609.4,371.8 607.7,372.4 606.1,373.7 604.6,375.5 603.2,377.7 602.2,380.4 601.4,383.4 601.0,386.5 600.9,389.7 601.2,392.8 601.9,395.8 603.0,398.4 604.4,400.7 606.1,402.5 608.0,403.7 610.1,404.4" fill="none" stroke="#626274" stroke-width="4.4"/>
<polyline points="611.1,371.7 609.4,371.8 607.7,372.4 606.1,373.7 604.6,375.5 603.2,377.7 602.2,380.4 601.4,383.4 601.0,386.5 600.9,389.7 601.2,392.8 601.9,395.8 603.0,398.4 604.4,400.7 606.1,402.5 608.0,403.7 610.1,404.4" fill="none" stroke="#b8b8cc" stroke-width="3.1"/>
<polyline points="611.1,371.7 609.4,371.8 607.7,372.4 606.1,373.7 604.6,375.5 603.2,377.7 602.2,380.4 601.4,383.4 601.0,386.5 600.9,389.7 601.2,392.8 601.9,395.8 603.0,398.4 604.4,400.7 606.1,402.5 608.0,403.7 610.1,404.4" fill="none" stroke="#dcdce8" stroke-width="1.1"/>
<polyline points="619.6,373.1 617.9,373.2 616.2,373.8 614.6,375.1 613.1,376.9 611.8,379.1 610.7,381.8 609.9,384.7 609.5,387.9 609.4,391.1 609.7,394.2 610.4,397.2 611.5,399.8 612.9,402.1 614.6,403.9 616.5,405.1 618.6,405.8" fill="none" stroke="#626274" stroke-width="4.4"/>
<polyline points="619.6,373.1 617.9,373.2 616.2,373.8 614.6,375.1 613.1,376.9 611.8,379.1 610.7,381.8 609.9,384.7 609.5,387.9 609.4,391.1 609.7,394.2 610.4,397.2 611.5,399.8 612.9,402.1 614.6,403.9 616.5,405.1 618.6,405.8" fill="none" stroke="#b8b8cc" stroke-width="3.1"/>
<polyline points="619.6,373.1 617.9,373.2 616.2,373.8 614.6,375.1 613.1,376.9 611.8,379.1 610.7,381.8 609.9,384.7 609.5,387.9 609.4,391.1 609.7,394.2 610.4,397.2 611.5,399.8 612.9,402.1 614.6,403.9 616.5,405.1 618.6,405.8" fill="none" stroke="#dcdce8" stroke-width="1.1"/>
<polyline points="628.1,374.5 626.4,374.5 624.7,375.2 623.1,376.5 621.6,378.2 620.3,380.5 619.2,383.2 618.4,386.1 618.0,389.3 617.9,392.5 618.2,395.6 619.0,398.5 620.0,401.2 621.4,403.5 623.1,405.3 625.0,406.5 627.1,407.2" fill="none" stroke="#626274" stroke-width="4.4"/>
<polyline points="628.1,374.5 626.4,374.5 624.7,375.2 623.1,376.5 621.6,378.2 620.3,380.5 619.2,383.2 618.4,386.1 618.0,389.3 617.9,392.5 618.2,395.6 619.0,398.5 620.0,401.2 621.4,403.5 623.1,405.3 625.0,406.5 627.1,407.2" fill="none" stroke="#b8b8cc" stroke-width="3.1"/>
<polyline points="628.1,374.5 626.4,374.5 624.7,375.2 623.1,376.5 621.6,378.2 620.3,380.5 619.2,383.2 618.4,386.1 618.0,389.3 617.9,392.5 618.2,395.6 619.0,398.5 620.0,401.2 621.4,403.5 623.1,405.3 625.0,406.5 627.1,407.2" fill="none" stroke="#dcdce8" stroke-width="1.1"/>
<polyline points="636.6,375.9 634.9,375.9 633.2,376.6 631.6,377.8 630.1,379.6 628.8,381.9 627.7,384.6 626.9,387.5 626.5,390.7 626.4,393.9 626.8,397.0 627.5,399.9 628.5,402.6 629.9,404.9 631.6,406.7 633.5,407.9 635.6,408.6" fill="none" stroke="#626274" stroke-width="4.4"/>
<polyline points="636.6,375.9 634.9,375.9 633.2,376.6 631.6,377.8 630.1,379.6 628.8,381.9 627.7,384.6 626.9,387.5 626.5,390.7 626.4,393.9 626.8,397.0 627.5,399.9 628.5,402.6 629.9,404.9 631.6,406.7 633.5,407.9 635.6,408.6" fill="none" stroke="#b8b8cc" stroke-width="3.1"/>
<polyline points="636.6,375.9 634.9,375.9 633.2,376.6 631.6,377.8 630.1,379.6 628.8,381.9 627.7,384.6 626.9,387.5 626.5,390.7 626.4,393.9 626.8,397.0 627.5,399.9 628.5,402.6 629.9,404.9 631.6,406.7 633.5,407.9 635.6,408.6" fill="none" stroke="#dcdce8" stroke-width="1.1"/>
<polyline points="645.1,377.3 643.4,377.3 641.7,378.0 640.1,379.2 638.6,381.0 637.3,383.3 636.2,386.0 635.4,388.9 635.0,392.1 634.9,395.2 635.3,398.4 636.0,401.3 637.0,404.0 638.4,406.3 640.1,408.1 642.0,409.3 644.1,410.0" fill="none" stroke="#626274" stroke-width="4.4"/>
<polyline points="645.1,377.3 643.4,377.3 641.7,378.0 640.1,379.2 638.6,381.0 637.3,383.3 636.2,386.0 635.4,388.9 635.0,392.1 634.9,395.2 635.3,398.4 636.0,401.3 637.0,404.0 638.4,406.3 640.1,408.1 642.0,409.3 644.1,410.0" fill="none" stroke="#b8b8cc" stroke-width="3.1"/>
<polyline points="645.1,377.3 643.4,377.3 641.7,378.0 640.1,379.2 638.6,381.0 637.3,383.3 636.2,386.0 635.4,388.9 635.0,392.1 634.9,395.2 635.3,398.4 636.0,401.3 637.0,404.0 638.4,406.3 640.1,408.1 642.0,409.3 644.1,410.0" fill="none" stroke="#dcdce8" stroke-width="1.1"/>
<polyline points="653.6,378.7 651.9,378.7 650.2,379.4 648.6,380.6 647.1,382.4 645.8,384.7 644.7,387.4 643.9,390.3 643.5,393.4 643.4,396.6 643.8,399.8 644.5,402.7 645.5,405.4 646.9,407.6 648.6,409.4 650.5,410.7 652.6,411.3" fill="none" stroke="#626274" stroke-width="4.4"/>
<polyline points="653.6,378.7 651.9,378.7 650.2,379.4 648.6,380.6 647.1,382.4 645.8,384.7 644.7,387.4 643.9,390.3 643.5,393.4 643.4,396.6 643.8,399.8 644.5,402.7 645.5,405.4 646.9,407.6 648.6,409.4 650.5,410.7 652.6,411.3" fill="none" stroke="#b8b8cc" stroke-width="3.1"/>
<polyline points="653.6,378.7 651.9,378.7 650.2,379.4 648.6,380.6 647.1,382.4 645.8,384.7 644.7,387.4 643.9,390.3 643.5,393.4 643.4,396.6 643.8,399.8 644.5,402.7 645.5,405.4 646.9,407.6 648.6,409.4 650.5,410.7 652.6,411.3" fill="none" stroke="#dcdce8" stroke-width="1.1"/>
<polyline points="662.1,380.1 660.4,380.1 658.8,380.8 657.1,382.0 655.6,383.8 654.3,386.1 653.2,388.7 652.4,391.7 652.0,394.8 652.0,398.0 652.3,401.2 653.0,404.1 654.0,406.8 655.4,409.0 657.1,410.8 659.0,412.1 661.1,412.7" fill="none" stroke="#626274" stroke-width="4.4"/>
<polyline points="662.1,380.1 660.4,380.1 658.8,380.8 657.1,382.0 655.6,383.8 654.3,386.1 653.2,388.7 652.4,391.7 652.0,394.8 652.0,398.0 652.3,401.2 653.0,404.1 654.0,406.8 655.4,409.0 657.1,410.8 659.0,412.1 661.1,412.7" fill="none" stroke="#b8b8cc" stroke-width="3.1"/>
<polyline points="662.1,380.1 660.4,380.1 658.8,380.8 657.1,382.0 655.6,383.8 654.3,386.1 653.2,388.7 652.4,391.7 652.0,394.8 652.0,398.0 652.3,401.2 653.0,404.1 654.0,406.8 655.4,409.0 657.1,410.8 659.0,412.1 661.1,412.7" fill="none" stroke="#dcdce8" stroke-width="1.1"/>
<polyline points="670.6,381.5 668.9,381.5 667.3,382.2 665.6,383.4 664.1,385.2 662.8,387.5 661.7,390.1 660.9,393.1 660.5,396.2 660.5,399.4 660.8,402.5 661.5,405.5 662.5,408.2 663.9,410.4 665.6,412.2 667.5,413.5 669.6,414.1" fill="none" stroke="#626274" stroke-width="4.4"/>
<polyline points="670.6,381.5 668.9,381.5 667.3,382.2 665.6,383.4 664.1,385.2 662.8,387.5 661.7,390.1 660.9,393.1 660.5,396.2 660.5,399.4 660.8,402.5 661.5,405.5 662.5,408.2 663.9,410.4 665.6,412.2 667.5,413.5 669.6,414.1" fill="none" stroke="#b8b8cc" stroke-width="3.1"/>
<polyline points="670.6,381.5 668.9,381.5 667.3,382.2 665.6,383.4 664.1,385.2 662.8,387.5 661.7,390.1 660.9,393.1 660.5,396.2 660.5,399.4 660.8,402.5 661.5,405.5 662.5,408.2 663.9,410.4 665.6,412.2 667.5,413.5 669.6,414.1" fill="none" stroke="#dcdce8" stroke-width="1.1"/>
<polyline points="679.1,382.8 677.4,382.9 675.8,383.6 674.1,384.8 672.6,386.6 671.3,388.9 670.2,391.5 669.5,394.5 669.0,397.6 669.0,400.8 669.3,403.9 670.0,406.9 671.0,409.6 672.4,411.8 674.1,413.6 676.0,414.9 678.1,415.5" fill="none" stroke="#626274" stroke-width="4.4"/>
<polyline points="679.1,382.8 677.4,382.9 675.8,383.6 674.1,384.8 672.6,386.6 671.3,388.9 670.2,391.5 669.5,394.5 669.0,397.6 669.0,400.8 669.3,403.9 670.0,406.9 671.0,409.6 672.4,411.8 674.1,413.6 676.0,414.9 678.1,415.5" fill="none" stroke="#b8b8cc" stroke-width="3.1"/>
<polyline points="679.1,382.8 677.4,382.9 675.8,383.6 674.1,384.8 672.6,386.6 671.3,388.9 670.2,391.5 669.5,394.5 669.0,397.6 669.0,400.8 669.3,403.9 670.0,406.9 671.0,409.6 672.4,411.8 674.1,413.6 676.0,414.9 678.1,415.5" fill="none" stroke="#dcdce8" stroke-width="1.1"/>
<polyline points="687.6,384.2 686.0,384.3 684.3,384.9 682.6,386.2 681.1,388.0 679.8,390.3 678.7,392.9 678.0,395.9 677.5,399.0 677.5,402.2 677.8,405.3 678.5,408.3 679.6,410.9 680.9,413.2 682.6,415.0 684.5,416.3 686.6,416.9" fill="none" stroke="#626274" stroke-width="4.4"/>
<polyline points="687.6,384.2 686.0,384.3 684.3,384.9 682.6,386.2 681.1,388.0 679.8,390.3 678.7,392.9 678.0,395.9 677.5,399.0 677.5,402.2 677.8,405.3 678.5,408.3 679.6,410.9 680.9,413.2 682.6,415.0 684.5,416.3 686.6,416.9" fill="none" stroke="#b8b8cc" stroke-width="3.1"/>
<polyline points="687.6,384.2 686.0,384.3 684.3,384.9 682.6,386.2 681.1,388.0 679.8,390.3 678.7,392.9 678.0,395.9 677.5,399.0 677.5,402.2 677.8,405.3 678.5,408.3 679.6,410.9 680.9,413.2 682.6,415.0 684.5,416.3 686.6,416.9" fill="none" stroke="#dcdce8" stroke-width="1.1"/>
<polyline points="696.1,385.6 694.5,385.7 692.8,386.3 691.1,387.6 689.6,389.4 688.3,391.6 687.2,394.3 686.5,397.3 686.0,400.4 686.0,403.6 686.3,406.7 687.0,409.7 688.1,412.3 689.5,414.6 691.1,416.4 693.1,417.6 695.1,418.3" fill="none" stroke="#626274" stroke-width="4.4"/>
<polyline points="696.1,385.6 694.5,385.7 692.8,386.3 691.1,387.6 689.6,389.4 688.3,391.6 687.2,394.3 686.5,397.3 686.0,400.4 686.0,403.6 686.3,406.7 687.0,409.7 688.1,412.3 689.5,414.6 691.1,416.4 693.1,417.6 695.1,418.3" fill="none" stroke="#b8b8cc" stroke-width="3.1"/>
<polyline points="696.1,385.6 694.5,385.7 692.8,386.3 691.1,387.6 689.6,389.4 688.3,391.6 687.2,394.3 686.5,397.3 686.0,400.4 686.0,403.6 686.3,406.7 687.0,409.7 688.1,412.3 689.5,414.6 691.1,416.4 693.1,417.6 695.1,418.3" fill="none" stroke="#dcdce8" stroke-width="1.1"/>
<path d="M702.8,386.7 A9.7 16.2 9.3 1 1 697.6,418.7 A9.7 16.2 9.3 1 1 702.8,386.7 Z" fill="none" stroke="#5e5e78" stroke-width="4.4" />
<path d="M702.8,386.7 A9.7 16.2 9.3 1 1 697.6,418.7 A9.7 16.2 9.3 1 1 702.8,386.7 Z" fill="none" stroke="#c0c0e2" stroke-width="3.0" />
<g id="p1">
<ellipse cx="36.3" cy="362" rx="2.8" ry="3.4" fill="#ececf0" stroke="#555" stroke-width="0.6"/>
<path d="M38.5,361 L46,362.4 L46,365.6 L38.5,364.4Z" fill="#d0d0d8" stroke="#555" stroke-width="0.5"/>
<ellipse cx="52.2" cy="365.4" rx="2.3" ry="3.1" fill="#fff" stroke="#7c80c0" stroke-width="1.4"/>
</g>
<path d="M70.7,358.3 L72.4,357.0 A15.3 25.5 9.3 0 1 64.2,407.4 L63.0,405.6 A14.4 24.0 9.3 0 1 70.7,358.3 Z" fill="url(#g30)" stroke="#6c2028" stroke-width="0.5" />
<path d="M72.4,357.0 L75.4,357.5 A15.3 25.5 9.3 0 1 67.2,407.9 L64.2,407.4 A15.3 25.5 9.3 0 1 72.4,357.0 Z" fill="url(#g31)" stroke="#6c2028" stroke-width="0.5" />
<path d="M75.4,357.5 A15.3 25.5 9.3 1 1 67.2,407.9 A15.3 25.5 9.3 1 1 75.4,357.5 Z" fill="#dc90a4" stroke="#6c2028" stroke-width="0.5" />
<path d="M75.0,359.5 L77.5,359.9 A14.1 23.5 9.3 0 1 69.9,406.3 L67.5,405.9 A14.1 23.5 9.3 0 1 75.0,359.5 Z" fill="url(#g32)" stroke="#6c2028" stroke-width="0.5" />
<path d="M77.8,357.9 L80.8,358.4 A15.3 25.5 9.3 0 1 72.6,408.7 L69.6,408.3 A15.3 25.5 9.3 0 1 77.8,357.9 Z" fill="url(#g33)" stroke="#6c2028" stroke-width="0.5" />
<path d="M80.8,358.4 A15.3 25.5 9.3 1 1 72.6,408.7 A15.3 25.5 9.3 1 1 80.8,358.4 Z" fill="#e0a0b4" stroke="#6c2028" stroke-width="0.5" />
<path d="M80.3,361.7 L90.0,363.2 A13.3 22.2 9.3 0 1 82.9,407.1 L73.1,405.5 A13.3 22.2 9.3 0 1 80.3,361.7 Z" fill="url(#g34)" stroke="#6c2028" stroke-width="0.5" />
<path d="M90.0,363.2 A13.3 22.2 9.3 1 1 82.9,407.1 A13.3 22.2 9.3 1 1 90.0,363.2 Z" fill="#dc7484" stroke="#6c2028" stroke-width="0.5" />
<path d="M89.7,365.2 A12.1 20.2 9.3 1 1 83.2,405.1 A12.1 20.2 9.3 1 1 89.7,365.2 Z" fill="#c84850" stroke="#6c2028" stroke-width="0.4" />
<path d="M89.4,367.1 A11.0 18.3 9.3 1 1 83.5,403.2 A11.0 18.3 9.3 1 1 89.4,367.1 Z" fill="url(#g35)" stroke="none" stroke-width="1" />
<g clip-path="url(#cp36)"><path d="M82.5,366.0 A11.0 18.3 9.3 1 1 76.6,402.1 A11.0 18.3 9.3 1 1 82.5,366.0 Z" fill="#a02c34" stroke="#6c2028" stroke-width="0.5"/></g>
<path d="M89.4,367.1 A11.0 18.3 9.3 1 1 83.5,403.2 A11.0 18.3 9.3 1 1 89.4,367.1 Z" fill="none" stroke="#6c2028" stroke-width="0.5" />
<polyline points="97.6,375.8 97.3,374.8 97.0,373.8 96.7,372.9 96.3,372.0" stroke="#e8a8b8" stroke-width="2.2" fill="none"/>
<polyline points="94.1,368.7 93.5,368.1 92.9,367.6 92.3,367.2 91.7,366.8" stroke="#e8a8b8" stroke-width="2.2" fill="none"/>
<polyline points="88.5,403.2 89.2,402.8 89.9,402.3 90.6,401.7 91.2,401.1" stroke="#e8a8b8" stroke-width="2.2" fill="none"/>
<polyline points="94.0,397.6 94.6,396.7 95.1,395.7 95.6,394.8 96.0,393.7" stroke="#e8a8b8" stroke-width="2.2" fill="none"/>
<path d="M86.0,373.1 L99.8,375.4 A7.1 11.8 9.3 0 1 96.0,398.7 L82.2,396.4 A7.1 11.8 9.3 0 1 86.0,373.1 Z" fill="url(#g37)" stroke="#6c2028" stroke-width="0.5" />
<path d="M98.8,375.2 L124.4,381.4 A5.9 9.8 9.3 0 1 121.2,400.8 L95.0,398.5 A7.1 11.8 9.3 0 1 98.8,375.2 Z" fill="url(#g38)" stroke="#6c2028" stroke-width="0.5" />
<path d="M124.4,381.4 A5.9 9.8 9.3 1 1 121.2,400.8 A5.9 9.8 9.3 1 1 124.4,381.4 Z" fill="#d46470" stroke="#6c2028" stroke-width="0.5" />
<ellipse cx="122.9" cy="392.3" rx="2.2" ry="2.8" fill="#e8909c" stroke="#6c2028" stroke-width="0.5"/>
<polyline points="105.2,377.6 104.5,377.9 103.9,378.3 103.2,378.9 102.6,379.5 102.0,380.3 101.4,381.1 100.9,382.0 100.4,382.9 100.0,384.0 99.7,385.0 99.4,386.1 99.2,387.2 99.0,388.4 98.9,389.5 98.9,390.6 99.0,391.7 99.1,392.8 99.3,393.8 99.6,394.7 99.9,395.6 100.3,396.4 100.8,397.2 101.3,397.8 101.8,398.3" fill="none" stroke="#6c2028" stroke-width="0.5" stroke-dasharray="2 1.5"/>
<polyline points="86.0,373.1 85.1,373.1 84.1,373.2 83.2,373.6 82.2,374.1 81.3,374.8 80.5,375.7 79.7,376.8 79.0,378.0 78.4,379.3 77.8,380.7 77.4,382.1 77.1,383.6 76.9,385.2 76.9,386.7 76.9,388.2 77.1,389.6 77.4,391.0 77.8,392.2 78.3,393.3 79.0,394.3 79.7,395.1 80.4,395.7 81.3,396.2 82.2,396.4" fill="none" stroke="#6c2028" stroke-width="0.6" />
<ellipse cx="109.3" cy="388.7" rx="13" ry="21.8" transform="rotate(9.3 109.3 388.7)" fill="none" stroke="#1a1a1a" stroke-width="2.5"/>
<ellipse cx="137.2" cy="392.8" rx="8.8" ry="16.3" transform="rotate(9.3 137.2 392.8)" fill="none" stroke="#50548c" stroke-width="4.4"/>
<ellipse cx="137.2" cy="392.8" rx="8.8" ry="16.3" transform="rotate(9.3 137.2 392.8)" fill="none" stroke="#9c9cdc" stroke-width="3.4"/>
<path d="M161.0,372.3 L197.7,378.3 A15.0 25.0 9.2 0 1 189.7,427.6 L153.0,421.7 A15.0 25.0 9.2 0 1 161.0,372.3 Z" fill="url(#g39)" stroke="none" stroke-width="0.6" />
<path d="M197.7,378.3 L311.8,394.3 A16.5 27.5 9.2 0 1 303.0,448.6 L189.7,427.6 A15.0 25.0 9.2 0 1 197.7,378.3 Z" fill="url(#g40)" stroke="none" stroke-width="0.6" />
<path d="M311.8,394.3 L370.9,403.9 A16.5 27.5 9.2 0 1 362.0,458.2 L303.0,448.6 A16.5 27.5 9.2 0 1 311.8,394.3 Z" fill="url(#g41)" stroke="none" stroke-width="0.6" />
<path d="M370.9,403.9 L533.1,432.8 A15.0 25.0 9.2 0 1 525.1,482.1 L362.0,458.2 A16.5 27.5 9.2 0 1 370.9,403.9 Z" fill="url(#g42)" stroke="none" stroke-width="0.6" />
<polyline points="161.0,372.3 197.7,378.3 311.8,394.3 370.9,403.9 531.2,432.4" fill="none" stroke="#1c1c1c" stroke-width="0.7" stroke-dasharray="2 0.8"/>
<polyline points="153.0,421.7 189.7,427.6 303.0,448.6 362.0,458.2 523.1,481.9" fill="none" stroke="#1c1c1c" stroke-width="0.7" stroke-dasharray="2 0.8"/>
<polyline points="161.0,372.3 159.0,372.2 157.0,372.5 155.0,373.3 153.1,374.4 151.2,376.0 149.4,377.8 147.7,380.1 146.2,382.6 144.9,385.3 143.7,388.3 142.8,391.4 142.2,394.6 141.8,397.8 141.7,401.1 141.8,404.2 142.2,407.3 142.8,410.1 143.7,412.7 144.8,415.1 146.1,417.2 147.6,418.9 149.3,420.2 151.1,421.2 153.0,421.7" fill="none" stroke="#1c1c1c" stroke-width="0.6" stroke-dasharray="2 0.8"/>
<polyline points="161.0,372.4 159.3,372.6 157.5,373.2 155.8,374.1 154.1,375.4 152.4,377.0 150.9,378.9 149.4,381.1 148.1,383.5 147.0,386.2 146.0,389.0 145.2,392.0 144.6,395.0 144.2,398.0 144.0,401.1 144.1,404.1 144.3,407.0 144.8,409.7 145.5,412.2 146.3,414.5 147.4,416.6 148.6,418.3 149.9,419.8 151.4,420.9 153.0,421.6" fill="none" stroke="#262626" stroke-width="0.8" stroke-dasharray="1.2 0.7"/>
<polyline points="162.5,372.7 160.9,372.9 159.3,373.5 157.7,374.4 156.1,375.7 154.6,377.3 153.2,379.3 151.8,381.5 150.6,383.9 149.5,386.6 148.6,389.4 147.8,392.4 147.2,395.4 146.8,398.5 146.6,401.5 146.6,404.5 146.8,407.4 147.2,410.1 147.8,412.6 148.5,414.9 149.4,416.9 150.5,418.7 151.7,420.1 153.1,421.1 154.5,421.8" fill="none" stroke="#262626" stroke-width="0.8" stroke-dasharray="1.2 0.7"/>
<polyline points="164.0,372.9 162.6,373.1 161.2,373.8 159.7,374.7 158.3,376.1 157.0,377.7 155.7,379.7 154.4,381.9 153.3,384.4 152.3,387.1 151.4,389.9 150.7,392.8 150.1,395.9 149.7,398.9 149.4,402.0 149.4,404.9 149.5,407.8 149.8,410.5 150.2,413.0 150.9,415.3 151.6,417.3 152.5,419.0 153.6,420.4 154.8,421.4 156.0,422.1" fill="none" stroke="#262626" stroke-width="0.8" stroke-dasharray="1.2 0.7"/>
<polyline points="165.5,373.2 164.3,373.4 163.0,374.1 161.8,375.1 160.5,376.4 159.3,378.1 158.1,380.1 157.0,382.3 156.0,384.8 155.0,387.5 154.2,390.3 153.5,393.3 153.0,396.3 152.5,399.4 152.3,402.4 152.1,405.4 152.2,408.2 152.4,410.9 152.7,413.4 153.2,415.7 153.8,417.6 154.6,419.3 155.5,420.7 156.4,421.7 157.5,422.3" fill="none" stroke="#262626" stroke-width="0.8" stroke-dasharray="1.2 0.7"/>
<polyline points="166.8,373.4 165.7,373.7 164.6,374.3 163.5,375.3 162.4,376.7 161.3,378.4 160.2,380.4 159.2,382.7 158.3,385.2 157.4,387.9 156.6,390.7 155.9,393.7 155.4,396.7 154.9,399.8 154.6,402.8 154.5,405.8 154.4,408.6 154.6,411.3 154.8,413.8 155.2,416.0 155.7,417.9 156.3,419.6 157.1,420.9 157.9,421.9 158.8,422.5" fill="none" stroke="#262626" stroke-width="0.8" stroke-dasharray="1.2 0.7"/>
<polyline points="166.2,374.0 165.2,374.8 164.3,375.8 163.4,377.1 162.4,378.6 161.5,380.4 160.7,382.4 159.8,384.7 159.1,387.0 158.4,389.6 157.7,392.2 157.2,394.9 156.7,397.6 156.3,400.4 156.0,403.1 155.9,405.7 155.8,408.3 155.8,410.7 155.9,413.0 156.2,415.1 156.5,417.0 156.9,418.7 157.5,420.1 158.1,421.2 158.7,422.1" fill="none" stroke="#2c2c2c" stroke-width="0.7" />
<polyline points="194.2,380.1 193.4,381.1 192.6,382.4 191.8,383.8 191.0,385.4 190.2,387.2 189.5,389.1 188.8,391.2 188.1,393.4 187.5,395.7 187.0,398.0 186.5,400.4 186.1,402.8 185.8,405.3 185.6,407.7 185.4,410.0 185.3,412.3 185.3,414.5 185.4,416.6 185.5,418.5 185.8,420.3 186.1,422.0 186.4,423.4 186.9,424.7 187.4,425.7" fill="none" stroke="#2c2c2c" stroke-width="0.6" stroke-dasharray="3 2 1 2"/>
<polyline points="308.0,396.3 307.1,397.4 306.2,398.8 305.3,400.3 304.4,402.1 303.6,404.1 302.8,406.2 302.0,408.5 301.3,410.9 300.6,413.4 300.0,416.0 299.5,418.6 299.1,421.3 298.7,424.0 298.5,426.6 298.3,429.2 298.2,431.7 298.2,434.1 298.3,436.4 298.4,438.6 298.7,440.6 299.0,442.4 299.4,444.0 299.9,445.3 300.5,446.5" fill="none" stroke="#2c2c2c" stroke-width="0.6" stroke-dasharray="3 2 1 2"/>
<polyline points="367.0,405.9 366.1,407.0 365.2,408.4 364.3,409.9 363.4,411.7 362.6,413.7 361.8,415.8 361.0,418.1 360.3,420.5 359.7,423.0 359.1,425.6 358.6,428.2 358.1,430.9 357.8,433.6 357.5,436.2 357.3,438.8 357.2,441.3 357.2,443.7 357.3,446.0 357.4,448.2 357.7,450.2 358.0,452.0 358.5,453.6 359.0,454.9 359.5,456.1" fill="none" stroke="#2c2c2c" stroke-width="0.6" stroke-dasharray="3 2 1 2"/>
<path d="M531.2,432.5 L552.7,430.6 A9.1 30.3 9.2 0 1 543.0,490.4 L523.1,481.8 A7.5 25.0 9.2 0 1 531.2,432.5 Z" fill="url(#g43)" stroke="none" stroke-width="0.6" />
<path d="M551.7,430.4 L571.1,433.6 A19.1 30.3 9.2 0 1 561.4,493.4 L542.0,490.3 A19.1 30.3 9.2 0 1 551.7,430.4 Z" fill="url(#g43)" stroke="#2a2a2a" stroke-width="0.5" stroke-dasharray="2 0.8"/>
<path d="M531.2,432.5 L552.7,430.6 M523.1,481.8 L543.0,490.4" stroke="#2a2a2a" stroke-width="0.5" fill="none"/>
<polyline points="529.1,432.7 528.2,433.5 527.2,434.5 526.3,435.8 525.4,437.4 524.5,439.2 523.6,441.2 522.7,443.5 522.0,445.9 521.2,448.4 520.6,451.1 520.0,453.8 519.5,456.6 519.2,459.4 518.9,462.1 518.7,464.8 518.6,467.4 518.7,469.9 518.8,472.2 519.0,474.3 519.4,476.2 519.8,477.9 520.3,479.3 520.9,480.5 521.6,481.3" fill="none" stroke="#2a2a2a" stroke-width="1.8" stroke-dasharray="3 1"/>
<polyline points="541.2,431.8 540.2,432.7 539.1,433.8 538.0,435.3 537.0,437.0 536.0,439.1 535.0,441.3 534.1,443.8 533.2,446.5 532.4,449.4 531.7,452.3 531.1,455.4 530.5,458.4 530.1,461.5 529.8,464.6 529.6,467.6 529.5,470.5 529.5,473.3 529.7,475.8 529.9,478.2 530.3,480.3 530.8,482.2 531.4,483.8 532.1,485.1 532.8,486.0" fill="none" stroke="#2a2a2a" stroke-width="1.8" stroke-dasharray="3 1"/>
<polyline points="552.3,432.4 551.3,433.5 550.2,434.9 549.1,436.6 548.1,438.5 547.1,440.7 546.1,443.2 545.2,445.8 544.3,448.6 543.5,451.5 542.8,454.6 542.2,457.7 541.7,460.8 541.2,464.0 540.9,467.1 540.7,470.2 540.6,473.1 540.7,475.9 540.8,478.6 541.0,481.0 541.4,483.3 541.9,485.2 542.4,487.0 543.1,488.4 543.8,489.5" fill="none" stroke="#55555c" stroke-width="0.7" stroke-dasharray="2 1"/>
<path d="M571.1,433.6 A19.1 30.3 9.2 1 1 561.4,493.4 A19.1 30.3 9.2 1 1 571.1,433.6 Z" fill="#505050" stroke="#222" stroke-width="0.6" stroke-dasharray="2 0.8"/>
<path d="M570.8,435.6 A17.8 28.3 9.2 1 1 561.7,491.4 A17.8 28.3 9.2 1 1 570.8,435.6 Z" fill="url(#g44)" stroke="none" stroke-width="1" />
<g clip-path="url(#cp45)"><path d="M557.0,433.3 A17.8 28.3 9.2 1 1 547.9,489.2 A17.8 28.3 9.2 1 1 557.0,433.3 Z" fill="#64646a" stroke="#333" stroke-width="0.5"/></g>
<path d="M570.8,435.6 A17.8 28.3 9.2 1 1 561.7,491.4 A17.8 28.3 9.2 1 1 570.8,435.6 Z" fill="none" stroke="#333" stroke-width="0.5" />
<polyline points="572.5,436.4 571.1,435.9 569.6,435.8 568.0,436.0 566.5,436.6 564.9,437.5 563.3,438.8 561.8,440.4 560.4,442.2 559.0,444.4 557.7,446.8 556.5,449.4 555.5,452.2 554.6,455.2 553.8,458.3 553.2,461.4 552.8,464.5 552.6,467.7 552.5,470.8 552.6,473.8 552.9,476.6 553.3,479.3 553.9,481.8 554.7,484.1 555.7,486.0 556.7,487.7 557.9,489.1 559.2,490.1 560.6,490.8 562.1,491.2 563.6,491.2" fill="none" stroke="#a4a4e8" stroke-width="1.6" />
<polyline points="561.8,483.7 562.3,482.7 562.8,481.4 563.3,479.8 563.8,478.0 564.4,476.0 564.9,473.7 565.4,471.4 565.9,468.8 566.4,466.2 566.9,463.6 567.3,461.0 567.6,458.3 568.0,455.8 568.2,453.4 568.4,451.1 568.6,449.0 568.6,447.1 568.6,445.4 568.6,444.0 568.5,442.9" fill="none" stroke="#a4a4e8" stroke-width="0.9" />
<path d="M570.8,435.6 A17.8 28.3 9.2 1 1 561.7,491.4 A17.8 28.3 9.2 1 1 570.8,435.6 Z" fill="none" stroke="#333" stroke-width="0.5" stroke-dasharray="2 1"/>
<polyline points="590.8,495.0 592.9,493.0 594.9,490.5 596.7,487.5 598.4,484.2 599.9,480.6 601.1,476.7 602.1,472.7 602.8,468.6 603.2,464.4 603.3,460.3 603.1,456.4 602.7,452.7 601.9,449.2 600.9,446.1 599.6,443.4 598.1,441.2 596.4,439.5 594.5,438.3 592.5,437.6 590.4,437.5 588.2,438.0 586.1,439.1 583.9,440.7 581.8,442.8 579.9,445.3 578.0,448.3 576.4,451.7 574.9,455.3 573.7,459.2 572.8,463.3 572.1,467.4 571.8,471.6 571.7,475.6 571.9,479.6 572.4,483.2 573.2,486.6 574.3,489.7 575.6,492.3 577.1,494.5 578.9,496.1" fill="none" stroke="#6c6c88" stroke-width="2.8" />
<polyline points="590.8,495.0 592.9,493.0 594.9,490.5 596.7,487.5 598.4,484.2 599.9,480.6 601.1,476.7 602.1,472.7 602.8,468.6 603.2,464.4 603.3,460.3 603.1,456.4 602.7,452.7 601.9,449.2 600.9,446.1 599.6,443.4 598.1,441.2 596.4,439.5 594.5,438.3 592.5,437.6 590.4,437.5 588.2,438.0 586.1,439.1 583.9,440.7 581.8,442.8 579.9,445.3 578.0,448.3 576.4,451.7 574.9,455.3 573.7,459.2 572.8,463.3 572.1,467.4 571.8,471.6 571.7,475.6 571.9,479.6 572.4,483.2 573.2,486.6 574.3,489.7 575.6,492.3 577.1,494.5 578.9,496.1" fill="none" stroke="#e4e4f4" stroke-width="1.6" />
<path d="M601.8,445.0 L613.6,447.0 A14.7 26.8 9.2 0 1 605.0,499.9 L593.2,498.0 A14.7 26.8 9.2 0 1 601.8,445.0 Z" fill="url(#g46)" stroke="#8a5a20" stroke-width="0.5" />
<path d="M613.6,447.0 A14.7 26.8 9.2 1 1 605.0,499.9 A14.7 26.8 9.2 1 1 613.6,447.0 Z" fill="#f4b468" stroke="#8a5a20" stroke-width="0.5" />
<path d="M613.4,448.7 A13.8 25.0 9.2 1 1 605.3,498.1 A13.8 25.0 9.2 1 1 613.4,448.7 Z" fill="url(#g47)" stroke="none" stroke-width="1" />
<g clip-path="url(#cp48)"><path d="M601.5,446.8 A13.8 25.0 9.2 1 1 593.5,496.2 A13.8 25.0 9.2 1 1 601.5,446.8 Z" fill="#fff" stroke="#8a5a20" stroke-width="0.5"/></g>
<path d="M613.4,448.7 A13.8 25.0 9.2 1 1 605.3,498.1 A13.8 25.0 9.2 1 1 613.4,448.7 Z" fill="none" stroke="#8a5a20" stroke-width="0.5" />
<path d="M629.5,445.1 A16.0 28.5 9.2 1 1 620.3,501.4 A16.0 28.5 9.2 1 1 629.5,445.1 Z" fill="#8c8ca8" stroke="#555" stroke-width="0.5" />
<path d="M631.0,445.4 A16.0 28.5 9.2 1 1 621.8,501.6 A16.0 28.5 9.2 1 1 631.0,445.4 Z" fill="#e6e6f4" stroke="#666680" stroke-width="0.6" />
<path d="M630.2,450.0 A13.3 23.8 9.2 1 1 622.6,497.0 A13.3 23.8 9.2 1 1 630.2,450.0 Z" fill="#fff" stroke="#666680" stroke-width="0.6" />
<path d="M657.7,449.9 L667.6,451.5 A16.5 29.5 9.2 0 1 658.1,509.7 L648.3,508.1 A16.5 29.5 9.2 0 1 657.7,449.9 Z" fill="url(#g49)" stroke="#3c6c4c" stroke-width="0.6" />
<path d="M667.6,451.5 A16.5 29.5 9.2 1 1 658.1,509.7 A16.5 29.5 9.2 1 1 667.6,451.5 Z" fill="#bce4cc" stroke="#3c6c4c" stroke-width="0.6" />
<path d="M667.1,454.6 A14.7 26.3 9.2 1 1 658.7,506.6 A14.7 26.3 9.2 1 1 667.1,454.6 Z" fill="#98c8ac" stroke="#3c6c4c" stroke-width="0.5" stroke-dasharray="2 1"/>
<path d="M666.6,457.6 A13.0 23.3 9.2 1 1 659.1,503.6 A13.0 23.3 9.2 1 1 666.6,457.6 Z" fill="url(#g50)" stroke="none" stroke-width="1" />
<g clip-path="url(#cp51)"><path d="M654.8,455.7 A13.0 23.3 9.2 1 1 647.3,501.7 A13.0 23.3 9.2 1 1 654.8,455.7 Z" fill="#fff" stroke="#3c6c4c" stroke-width="0.5"/></g>
<path d="M666.6,457.6 A13.0 23.3 9.2 1 1 659.1,503.6 A13.0 23.3 9.2 1 1 666.6,457.6 Z" fill="none" stroke="#3c6c4c" stroke-width="0.5" />
<polyline points="659.8,450.7 657.8,451.1 655.8,452.0 653.9,453.3 652.0,454.9 650.2,456.8 648.5,459.1 646.9,461.6 645.5,464.4 644.2,467.4 643.2,470.5 642.3,473.8 641.6,477.2 641.2,480.6 641.0,483.9 641.0,487.3 641.2,490.5 641.7,493.6 642.4,496.5 643.3,499.2 644.4,501.6 645.7,503.7 647.1,505.5 648.7,506.9 650.4,508.0" fill="none" stroke="#3c6c4c" stroke-width="0.5" stroke-dasharray="2 1"/>
<path d="M710.7,460.9 C710.0,460.7 708.0,460.2 706.6,459.9 C705.2,459.6 703.7,458.7 702.5,458.9 C701.3,459.1 700.3,461.1 699.4,460.9 C698.5,460.6 698.3,457.7 697.3,457.4 C696.3,457.1 694.8,458.0 693.2,458.9 C691.7,459.8 689.5,460.9 688.0,463.0 C686.5,465.1 684.9,468.4 683.9,471.2 C682.9,473.9 682.3,477.6 682.3,479.5 C682.3,481.4 684.0,481.4 683.9,482.6 C683.8,483.8 682.1,485.1 681.9,486.7 C681.7,488.2 683.0,490.3 682.9,491.9 C682.8,493.4 681.4,494.5 681.4,496.0 C681.4,497.5 682.1,499.2 682.9,501.1 C683.7,503.0 684.8,505.6 686.0,507.3 C687.2,509.0 688.9,510.4 690.1,511.4 C691.3,512.4 691.8,513.7 693.2,513.5 C694.6,513.3 696.9,510.2 698.4,510.0 C699.9,509.8 700.8,513.0 702.5,512.5 C704.2,512.0 706.8,509.7 708.7,507.3 C710.6,504.9 712.7,501.9 713.8,498.0 C714.9,494.1 715.2,488.1 715.3,483.6 C715.4,479.1 715.2,475.0 714.4,471.2 C713.6,467.4 711.3,462.6 710.7,460.9" fill="none" stroke="#5a5a62" stroke-width="2.0" stroke-linejoin="round"/>
<path d="M710.7,460.9 C710.0,460.7 708.0,460.2 706.6,459.9 C705.2,459.6 703.7,458.7 702.5,458.9 C701.3,459.1 700.3,461.1 699.4,460.9 C698.5,460.6 698.3,457.7 697.3,457.4 C696.3,457.1 694.8,458.0 693.2,458.9 C691.7,459.8 689.5,460.9 688.0,463.0 C686.5,465.1 684.9,468.4 683.9,471.2 C682.9,473.9 682.3,477.6 682.3,479.5 C682.3,481.4 684.0,481.4 683.9,482.6 C683.8,483.8 682.1,485.1 681.9,486.7 C681.7,488.2 683.0,490.3 682.9,491.9 C682.8,493.4 681.4,494.5 681.4,496.0 C681.4,497.5 682.1,499.2 682.9,501.1 C683.7,503.0 684.8,505.6 686.0,507.3 C687.2,509.0 688.9,510.4 690.1,511.4 C691.3,512.4 691.8,513.7 693.2,513.5 C694.6,513.3 696.9,510.2 698.4,510.0 C699.9,509.8 700.8,513.0 702.5,512.5 C704.2,512.0 706.8,509.7 708.7,507.3 C710.6,504.9 712.7,501.9 713.8,498.0 C714.9,494.1 715.2,488.1 715.3,483.6 C715.4,479.1 715.2,475.0 714.4,471.2 C713.6,467.4 711.3,462.6 710.7,460.9" fill="none" stroke="#d4d4dc" stroke-width="0.9" stroke-linejoin="round"/>
<path d="M734.4,461.7 L743.3,463.1 A17.1 30.5 9.2 0 1 733.5,523.3 L724.6,521.9 A17.1 30.5 9.2 0 1 734.4,461.7 Z" fill="url(#g52)" stroke="#3c6c4c" stroke-width="0.6" />
<path d="M743.3,463.1 A17.1 30.5 9.2 1 1 733.5,523.3 A17.1 30.5 9.2 1 1 743.3,463.1 Z" fill="#bce4cc" stroke="#3c6c4c" stroke-width="0.6" />
<path d="M742.8,466.3 A15.3 27.3 9.2 1 1 734.0,520.2 A15.3 27.3 9.2 1 1 742.8,466.3 Z" fill="#98c8ac" stroke="#3c6c4c" stroke-width="0.5" stroke-dasharray="2 1"/>
<path d="M742.3,469.3 A13.6 24.3 9.2 1 1 734.5,517.2 A13.6 24.3 9.2 1 1 742.3,469.3 Z" fill="url(#g53)" stroke="none" stroke-width="1" />
<g clip-path="url(#cp54)"><path d="M731.4,467.5 A13.6 24.3 9.2 1 1 723.6,515.5 A13.6 24.3 9.2 1 1 731.4,467.5 Z" fill="#fff" stroke="#3c6c4c" stroke-width="0.5"/></g>
<path d="M742.3,469.3 A13.6 24.3 9.2 1 1 734.5,517.2 A13.6 24.3 9.2 1 1 742.3,469.3 Z" fill="none" stroke="#3c6c4c" stroke-width="0.5" />
<polyline points="735.8,462.4 733.8,462.9 731.8,463.8 729.7,465.1 727.8,466.7 725.9,468.7 724.2,471.1 722.5,473.7 721.1,476.6 719.8,479.7 718.7,482.9 717.8,486.3 717.1,489.8 716.6,493.3 716.4,496.8 716.4,500.2 716.7,503.6 717.2,506.8 717.9,509.8 718.8,512.5 720.0,515.0 721.3,517.2 722.8,519.1 724.4,520.6 726.2,521.7" fill="none" stroke="#3c6c4c" stroke-width="0.5" stroke-dasharray="2 1"/>
<text transform="translate(169.2 31.5) scale(0.9 1)" text-anchor="middle" class="lb">28</text>
<text transform="translate(238.7 32.3) scale(0.9 1)" text-anchor="middle" class="lb">29</text>
<text transform="translate(142.0 118.0) scale(0.9 1)" text-anchor="middle" class="lb">22</text>
<text transform="translate(178.5 125.3) scale(0.9 1)" text-anchor="middle" class="lb">23</text>
<text transform="translate(230.7 134.0) scale(0.9 1)" text-anchor="middle" class="lb">24</text>
<text transform="translate(483.5 175.3) scale(0.9 1)" text-anchor="middle" class="lb">25</text>
<text transform="translate(572.5 193.5) scale(0.9 1)" text-anchor="middle" class="lb">26</text>
<text transform="translate(636.7 206.3) scale(0.9 1)" text-anchor="middle" class="lb">27</text>
<text transform="translate(108.2 181.0) scale(0.9 1)" text-anchor="middle" class="lb">19</text>
<text transform="translate(154.0 187.3) scale(0.9 1)" text-anchor="middle" class="lb">20</text>
<text transform="translate(185.7 193.5) scale(0.9 1)" text-anchor="middle" class="lb">21</text>
<text transform="translate(77.0 225.3) scale(0.9 1)" text-anchor="middle" class="lb">14</text>
<text transform="translate(195.5 248.5) scale(0.9 1)" text-anchor="middle" class="lb">15</text>
<text transform="translate(490.0 289.1) scale(0.9 1)" text-anchor="middle" class="lb">16</text>
<text transform="translate(619.7 306.8) scale(0.9 1)" text-anchor="middle" class="lb">17</text>
<text transform="translate(663.5 317.5) scale(0.9 1)" text-anchor="middle" class="lb">18</text>
<text transform="translate(176.5 297.5) scale(0.9 1)" text-anchor="middle" class="lb">11</text>
<text transform="translate(222.0 301.3) scale(0.9 1)" text-anchor="middle" class="lb">12</text>
<text transform="translate(692.0 373.5) scale(0.9 1)" text-anchor="middle" class="lb">13</text>
<text transform="translate(9.5 405.0) scale(0.9 1)" text-anchor="middle" class="lb">1</text>
<text transform="translate(25.0 416.0) scale(0.9 1)" text-anchor="middle" class="lb">2</text>
<text transform="translate(50.0 429.3) scale(0.9 1)" text-anchor="middle" class="lb">3</text>
<text transform="translate(86.7 434.3) scale(0.9 1)" text-anchor="middle" class="lb">4</text>
<text transform="translate(116.5 442.0) scale(0.9 1)" text-anchor="middle" class="lb">30</text>
<text transform="translate(347.7 480.3) scale(0.9 1)" text-anchor="middle" class="lb">5</text>
<text transform="translate(555.0 517.5) scale(0.9 1)" text-anchor="middle" class="lb">6</text>
<text transform="translate(571.2 530.0) scale(0.9 1)" text-anchor="middle" class="lb">7</text>
<text transform="translate(604.2 530.0) scale(0.9 1)" text-anchor="middle" class="lb">8</text>
<text transform="translate(637.2 533.5) scale(0.9 1)" text-anchor="middle" class="lb">9</text>
<text transform="translate(737.0 450.0) scale(0.9 1)" text-anchor="middle" class="lb">10</text>
<text transform="translate(712.2 540.5) scale(0.9 1)" text-anchor="middle" class="lb">9</text>
<text x="104" y="528" class="dt">7/28/2020</text>
<path d="M161,29 L151,46" stroke="#222" stroke-width="0.6" stroke-dasharray="3 1" fill="none"/>
<path d="M151.0,46.0 L152.1,41.4 L154.5,42.8 Z" fill="#111"/>
<path d="M230,30 L217.5,51.5" stroke="#222" stroke-width="0.6" stroke-dasharray="3 1" fill="none"/>
<path d="M217.5,51.5 L218.6,46.9 L221.0,48.3 Z" fill="#111"/>
<path d="M134,116 L128.5,125" stroke="#222" stroke-width="0.6" stroke-dasharray="3 1" fill="none"/>
<path d="M128.5,125.0 L129.7,120.4 L132.0,121.9 Z" fill="#111"/>
<path d="M170,123.5 L162.5,135" stroke="#222" stroke-width="0.6" stroke-dasharray="3 1" fill="none"/>
<path d="M162.5,135.0 L163.8,130.5 L166.1,132.0 Z" fill="#111"/>
<path d="M222.5,132.5 L207.5,150" stroke="#222" stroke-width="0.6" stroke-dasharray="3 1" fill="none"/>
<path d="M207.5,150.0 L209.4,145.7 L211.5,147.5 Z" fill="#111"/>
<path d="M475,172.5 L458.5,182.5" stroke="#222" stroke-width="0.6" stroke-dasharray="3 1" fill="none"/>
<path d="M458.5,182.5 L461.6,179.0 L463.1,181.4 Z" fill="#111"/>
<path d="M565,191 L556,204" stroke="#222" stroke-width="0.6" stroke-dasharray="3 1" fill="none"/>
<path d="M556.0,204.0 L557.4,199.5 L559.7,201.1 Z" fill="#111"/>
<path d="M628.5,203.5 L615,212.5" stroke="#222" stroke-width="0.6" stroke-dasharray="3 1" fill="none"/>
<path d="M615.0,212.5 L618.0,208.8 L619.5,211.2 Z" fill="#111"/>
<path d="M100,179 L92.5,189" stroke="#222" stroke-width="0.6" stroke-dasharray="3 1" fill="none"/>
<path d="M92.5,189.0 L94.1,184.6 L96.3,186.2 Z" fill="#111"/>
<path d="M145,186 L137.5,197.5" stroke="#222" stroke-width="0.6" stroke-dasharray="3 1" fill="none"/>
<path d="M137.5,197.5 L138.8,193.0 L141.1,194.5 Z" fill="#111"/>
<path d="M177.5,191.5 L170,201.5" stroke="#222" stroke-width="0.6" stroke-dasharray="3 1" fill="none"/>
<path d="M170.0,201.5 L171.6,197.1 L173.8,198.7 Z" fill="#111"/>
<path d="M69,224 L62.5,233.5" stroke="#222" stroke-width="0.6" stroke-dasharray="3 1" fill="none"/>
<path d="M62.5,233.5 L63.9,229.0 L66.2,230.6 Z" fill="#111"/>
<path d="M187.5,246 L172.5,260" stroke="#222" stroke-width="0.6" stroke-dasharray="3 1" fill="none"/>
<path d="M172.5,260.0 L174.8,255.9 L176.7,258.0 Z" fill="#111"/>
<path d="M482,285 L463.7,293.6" stroke="#222" stroke-width="0.6" stroke-dasharray="3 1" fill="none"/>
<path d="M463.7,293.6 L467.2,290.4 L468.4,293.0 Z" fill="#111"/>
<path d="M611,304 L590,321.5" stroke="#222" stroke-width="0.6" stroke-dasharray="3 1" fill="none"/>
<path d="M590.0,321.5 L592.6,317.5 L594.4,319.7 Z" fill="#111"/>
<path d="M655,315 L637.5,333" stroke="#222" stroke-width="0.6" stroke-dasharray="3 1" fill="none"/>
<path d="M637.5,333.0 L639.6,328.8 L641.6,330.7 Z" fill="#111"/>
<path d="M170,296.5 L159,305" stroke="#222" stroke-width="0.6" stroke-dasharray="3 1" fill="none"/>
<path d="M159.0,305.0 L161.7,301.1 L163.4,303.4 Z" fill="#111"/>
<path d="M214,299 L202.5,306.5" stroke="#222" stroke-width="0.6" stroke-dasharray="3 1" fill="none"/>
<path d="M202.5,306.5 L205.5,302.9 L207.0,305.2 Z" fill="#111"/>
<path d="M684.5,371.5 L682.5,383" stroke="#222" stroke-width="0.6" stroke-dasharray="3 1" fill="none"/>
<path d="M682.5,383.0 L681.9,378.3 L684.7,378.8 Z" fill="#111"/>
<path d="M12.5,396.5 L36,366.5" stroke="#222" stroke-width="0.6" stroke-dasharray="3 1" fill="none"/>
<path d="M36.0,366.5 L34.3,370.9 L32.1,369.2 Z" fill="#111"/>
<path d="M27.5,408 L50,370.5" stroke="#222" stroke-width="0.6" stroke-dasharray="3 1" fill="none"/>
<path d="M50.0,370.5 L48.9,375.1 L46.5,373.6 Z" fill="#111"/>
<path d="M55,419 L62.5,406.5" stroke="#222" stroke-width="0.6" stroke-dasharray="3 1" fill="none"/>
<path d="M62.5,406.5 L61.4,411.1 L59.0,409.6 Z" fill="#111"/>
<path d="M90,425 L107.5,410" stroke="#222" stroke-width="0.6" stroke-dasharray="3 1" fill="none"/>
<path d="M107.5,410.0 L105.0,414.0 L103.2,411.9 Z" fill="#111"/>
<path d="M125,431.5 L131,413" stroke="#222" stroke-width="0.6" stroke-dasharray="3 1" fill="none"/>
<path d="M131.0,413.0 L130.9,417.7 L128.3,416.8 Z" fill="#111"/>
<path d="M352.5,471.5 L361,459" stroke="#222" stroke-width="0.6" stroke-dasharray="3 1" fill="none"/>
<path d="M361.0,459.0 L359.6,463.5 L357.3,461.9 Z" fill="#111"/>
<path d="M561,506 L578,493" stroke="#222" stroke-width="0.6" stroke-dasharray="3 1" fill="none"/>
<path d="M578.0,493.0 L575.3,496.8 L573.6,494.6 Z" fill="#111"/>
<path d="M572.4,519.6 L591.5,492.6" stroke="#222" stroke-width="0.6" stroke-dasharray="3 1" fill="none"/>
<path d="M591.5,492.6 L590.0,497.1 L587.8,495.5 Z" fill="#111"/>
<path d="M609,519.6 L615.3,500.5" stroke="#222" stroke-width="0.6" stroke-dasharray="3 1" fill="none"/>
<path d="M615.3,500.5 L615.2,505.2 L612.6,504.3 Z" fill="#111"/>
<path d="M642.3,524.3 L648.6,506.9" stroke="#222" stroke-width="0.6" stroke-dasharray="3 1" fill="none"/>
<path d="M648.6,506.9 L648.4,511.6 L645.8,510.7 Z" fill="#111"/>
<path d="M728.5,448 L706,459" stroke="#222" stroke-width="0.6" stroke-dasharray="3 1" fill="none"/>
<path d="M706.0,459.0 L709.4,455.8 L710.7,458.3 Z" fill="#111"/>
<path d="M716.9,532.3 L723.2,519.6" stroke="#222" stroke-width="0.6" stroke-dasharray="3 1" fill="none"/>
<path d="M723.2,519.6 L722.5,524.3 L719.9,523.0 Z" fill="#111"/>
</svg>
</body></html>
